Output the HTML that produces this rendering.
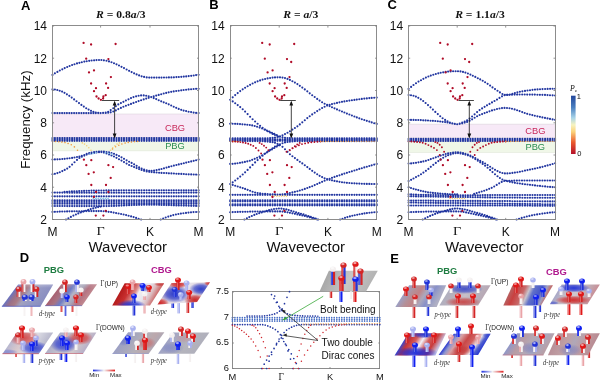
<!DOCTYPE html><html><head><meta charset="utf-8"><style>html,body{margin:0;padding:0;background:#fff;}svg{display:block;filter:blur(0.3px)}</style></head><body>
<svg width="602" height="380" viewBox="0 0 602 380">
<defs>
<linearGradient id="cbar" x1="0" y1="0" x2="0" y2="1"><stop offset="0" stop-color="#23479b"/><stop offset="0.2" stop-color="#4a7fc0"/><stop offset="0.38" stop-color="#a8d4e8"/><stop offset="0.5" stop-color="#f6f3c0"/><stop offset="0.62" stop-color="#fbd27a"/><stop offset="0.8" stop-color="#ea5a2e"/><stop offset="1" stop-color="#b5102a"/></linearGradient>
<linearGradient id="mm" x1="0" y1="0" x2="1" y2="0"><stop offset="0" stop-color="#1e2ee0"/><stop offset="0.5" stop-color="#f2f2f2"/><stop offset="1" stop-color="#e02020"/></linearGradient>
</defs>
<text x="21.0" y="9.7" font-family='"Liberation Sans", sans-serif' font-size="13.00" font-weight="bold" font-style="normal" fill="#000" text-anchor="start" >A</text>
<text x="209.3" y="9.4" font-family='"Liberation Sans", sans-serif' font-size="13.00" font-weight="bold" font-style="normal" fill="#000" text-anchor="start" >B</text>
<text x="387.4" y="9.4" font-family='"Liberation Sans", sans-serif' font-size="13.00" font-weight="bold" font-style="normal" fill="#000" text-anchor="start" >C</text>
<text x="19.8" y="261.9" font-family='"Liberation Sans", sans-serif' font-size="13.00" font-weight="bold" font-style="normal" fill="#000" text-anchor="start" >D</text>
<text x="390.2" y="262.6" font-family='"Liberation Sans", sans-serif' font-size="13.00" font-weight="bold" font-style="normal" fill="#000" text-anchor="start" >E</text>
<text x="96.0" y="18.1" font-family='"Liberation Serif", serif' font-size="10.60" font-weight="bold" font-style="normal" fill="#111" text-anchor="start" textLength="49.6" lengthAdjust="spacingAndGlyphs"><tspan font-style="italic">R</tspan> = 0.8<tspan font-style="italic">a</tspan>/3</text>
<text x="283.2" y="18.1" font-family='"Liberation Serif", serif' font-size="10.60" font-weight="bold" font-style="normal" fill="#111" text-anchor="start" textLength="35.2" lengthAdjust="spacingAndGlyphs"><tspan font-style="italic">R</tspan> = <tspan font-style="italic">a</tspan>/3</text>
<text x="455.2" y="18.3" font-family='"Liberation Serif", serif' font-size="10.60" font-weight="bold" font-style="normal" fill="#111" text-anchor="start" textLength="49.6" lengthAdjust="spacingAndGlyphs"><tspan font-style="italic">R</tspan> = 1.1<tspan font-style="italic">a</tspan>/3</text>
<text transform="translate(30.1,119.6) rotate(-90)" font-family='"Liberation Sans", sans-serif' font-size="13.6" fill="#111" text-anchor="middle" textLength="98.5" lengthAdjust="spacingAndGlyphs">Frequency (kHz)</text>
<rect x="52.5" y="114.0" width="146.1" height="23.6" fill="#f7e9f7" stroke="#d8d0d8" stroke-width="0.5"/>
<rect x="52.5" y="141.6" width="146.1" height="9.3" fill="#f0f7e8" stroke="#dfe6d8" stroke-width="0.5"/>
<rect x="408.6" y="124.1" width="146.5" height="13.7" fill="#f7e9f7" stroke="#d8d0d8" stroke-width="0.5"/>
<rect x="408.6" y="141.6" width="146.5" height="11.0" fill="#f0f7e8" stroke="#dfe6d8" stroke-width="0.5"/>
<path d="M52.5 74.9h0M54.9 73.3h0M57.4 71.9h0M59.8 70.5h0M62.3 69.3h0M64.7 68.1h0M67.2 67.0h0M69.6 66.0h0M72.1 65.0h0M74.5 64.2h0M77.0 63.4h0M79.4 62.8h0M81.8 62.2h0M84.3 61.6h0M86.7 61.2h0M89.2 60.8h0M91.6 60.5h0M94.1 60.3h0M96.5 60.1h0M99.0 60.0h0M101.4 60.0h0M103.9 60.3h0M106.5 60.7h0M109.0 61.4h0M111.5 62.2h0M114.0 63.2h0M116.5 64.3h0M119.0 65.5h0M121.5 66.8h0M124.0 68.1h0M126.6 69.5h0M129.1 70.8h0M131.6 72.1h0M134.1 73.3h0M136.6 74.4h0M139.1 75.4h0M141.6 76.3h0M144.1 76.9h0M146.7 77.4h0M149.2 77.6h0M151.6 77.6h0M154.1 77.6h0M156.6 77.6h0M159.1 77.6h0M161.5 77.6h0M164.0 77.5h0M166.5 77.5h0M168.9 77.4h0M171.4 77.4h0M173.9 77.3h0M176.4 77.1h0M178.8 77.0h0M181.3 76.8h0M183.8 76.6h0M186.2 76.4h0M188.7 76.1h0M191.2 75.8h0M193.7 75.5h0M196.1 75.1h0M198.6 74.7h0M52.5 89.4h0M54.9 89.5h0M57.3 90.0h0M59.7 90.7h0M62.1 91.6h0M64.5 92.8h0M66.9 94.3h0M69.3 95.8h0M71.7 97.6h0M74.1 99.4h0M76.5 101.2h0M79.0 103.1h0M81.4 104.9h0M83.8 106.6h0M86.2 108.2h0M88.6 109.6h0M91.0 110.8h0M93.4 111.8h0M95.8 112.5h0M98.2 112.9h0M100.6 113.1h0M100.6 113.1h0M103.1 112.9h0M105.7 112.6h0M108.2 111.7h0M110.7 110.1h0M113.3 108.2h0M115.8 106.2h0M118.3 104.4h0M120.9 103.1h0M123.4 101.8h0M125.9 100.5h0M128.5 99.3h0M131.0 98.1h0M133.5 97.1h0M136.1 96.3h0M138.6 95.7h0M141.1 95.4h0M143.7 95.4h0M146.2 95.7h0M148.7 96.3h0M151.2 97.1h0M153.7 98.1h0M156.2 99.1h0M158.7 100.2h0M161.2 101.3h0M163.7 102.3h0M166.2 103.2h0M168.7 104.3h0M171.2 105.5h0M173.7 106.7h0M176.2 107.8h0M178.7 108.9h0M181.2 109.8h0M183.6 110.6h0M186.1 111.1h0M188.6 111.7h0M191.1 112.1h0M193.6 112.6h0M196.1 112.9h0M198.6 113.1h0M100.6 113.1h0M103.1 113.0h0M105.7 112.9h0M108.2 112.7h0M110.7 112.3h0M113.3 111.5h0M115.8 110.4h0M118.3 109.1h0M120.9 107.9h0M123.4 106.7h0M125.9 105.7h0M128.5 104.8h0M131.0 103.9h0M133.5 102.9h0M136.1 102.0h0M138.6 101.1h0M141.1 100.2h0M143.7 99.4h0M146.2 98.6h0M148.7 97.8h0M151.2 97.1h0M153.7 96.3h0M156.2 95.6h0M158.7 94.9h0M161.2 94.2h0M163.7 93.5h0M166.2 92.9h0M168.7 92.3h0M171.2 91.8h0M173.7 91.4h0M176.2 91.0h0M178.7 90.7h0M181.2 90.3h0M183.6 90.0h0M186.1 89.7h0M188.6 89.4h0M191.1 89.2h0M193.6 89.0h0M196.1 88.8h0M198.6 88.7h0M52.5 113.1h0M54.9 113.1h0M57.3 113.1h0M59.7 113.1h0M62.1 113.1h0M64.5 113.1h0M66.9 113.1h0M69.3 113.1h0M71.7 113.1h0M74.1 113.1h0M76.5 113.1h0M79.0 113.1h0M81.4 113.1h0M83.8 113.1h0M86.2 113.1h0M88.6 113.1h0M91.0 113.1h0M93.4 113.1h0M95.8 113.1h0M98.2 113.1h0M100.6 113.1h0M52.5 138.1h0M54.9 138.1h0M57.4 138.1h0M59.8 138.1h0M62.3 138.1h0M64.7 138.1h0M67.2 138.1h0M69.6 138.1h0M72.1 138.1h0M74.5 138.1h0M77.0 138.1h0M79.4 138.1h0M81.8 138.1h0M84.3 138.1h0M86.7 138.1h0M89.2 138.1h0M91.6 138.1h0M94.1 138.1h0M96.5 138.1h0M99.0 138.1h0M101.4 138.1h0M103.9 138.1h0M106.5 138.1h0M109.0 138.1h0M111.5 138.1h0M114.0 138.1h0M116.5 138.1h0M119.0 138.1h0M121.5 138.1h0M124.0 138.1h0M126.6 138.1h0M129.1 138.1h0M131.6 138.1h0M134.1 138.1h0M136.6 138.1h0M139.1 138.1h0M141.6 138.1h0M144.1 138.1h0M146.7 138.1h0M149.2 138.1h0M151.6 138.1h0M154.1 138.1h0M156.6 138.1h0M159.1 138.1h0M161.5 138.1h0M164.0 138.1h0M166.5 138.1h0M168.9 138.1h0M171.4 138.1h0M173.9 138.1h0M176.4 138.1h0M178.8 138.1h0M181.3 138.1h0M183.8 138.1h0M186.2 138.1h0M188.7 138.1h0M191.2 138.1h0M193.7 138.1h0M196.1 138.1h0M198.6 138.1h0M52.5 139.0h0M54.9 139.0h0M57.4 139.0h0M59.8 139.0h0M62.3 139.0h0M64.7 139.0h0M67.2 139.0h0M69.6 139.0h0M72.1 139.0h0M74.5 139.0h0M77.0 139.0h0M79.4 139.0h0M81.8 139.0h0M84.3 139.0h0M86.7 139.0h0M89.2 139.0h0M91.6 139.0h0M94.1 139.0h0M96.5 139.0h0M99.0 139.0h0M101.4 139.0h0M103.9 139.0h0M106.5 139.0h0M109.0 139.0h0M111.5 139.0h0M114.0 139.0h0M116.5 139.0h0M119.0 139.0h0M121.5 139.0h0M124.0 139.0h0M126.6 139.0h0M129.1 139.0h0M131.6 139.0h0M134.1 139.0h0M136.6 139.0h0M139.1 139.0h0M141.6 139.0h0M144.1 139.0h0M146.7 139.0h0M149.2 139.0h0M151.6 139.0h0M154.1 139.0h0M156.6 139.0h0M159.1 139.0h0M161.5 139.0h0M164.0 139.0h0M166.5 139.0h0M168.9 139.0h0M171.4 139.0h0M173.9 139.0h0M176.4 139.0h0M178.8 139.0h0M181.3 139.0h0M183.8 139.0h0M186.2 139.0h0M188.7 139.0h0M191.2 139.0h0M193.7 139.0h0M196.1 139.0h0M198.6 139.0h0M52.5 140.0h0M54.9 140.0h0M57.4 140.0h0M59.8 140.0h0M62.3 140.0h0M64.7 140.0h0M67.2 140.0h0M69.6 140.0h0M72.1 140.0h0M74.5 140.0h0M77.0 140.0h0M79.4 140.0h0M81.8 140.0h0M84.3 140.0h0M86.7 140.0h0M89.2 140.0h0M91.6 140.0h0M94.1 140.0h0M96.5 140.0h0M99.0 140.0h0M101.4 140.0h0M103.9 140.0h0M106.5 140.0h0M109.0 140.0h0M111.5 140.0h0M114.0 140.0h0M116.5 140.0h0M119.0 140.0h0M121.5 140.0h0M124.0 140.0h0M126.6 140.0h0M129.1 140.0h0M131.6 140.0h0M134.1 140.0h0M136.6 140.0h0M139.1 140.0h0M141.6 140.0h0M144.1 140.0h0M146.7 140.0h0M149.2 140.0h0M151.6 140.0h0M154.1 140.0h0M156.6 140.0h0M159.1 140.0h0M161.5 140.0h0M164.0 140.0h0M166.5 140.0h0M168.9 140.0h0M171.4 140.0h0M173.9 140.0h0M176.4 140.0h0M178.8 140.0h0M181.3 140.0h0M183.8 140.0h0M186.2 140.0h0M188.7 140.0h0M191.2 140.0h0M193.7 140.0h0M196.1 140.0h0M198.6 140.0h0M52.5 140.8h0M54.9 140.8h0M57.4 140.8h0M59.8 140.8h0M62.3 140.8h0M64.7 140.8h0M67.2 140.8h0M69.6 140.8h0M72.1 140.8h0M74.5 140.8h0M77.0 140.8h0M79.4 140.8h0M81.8 140.8h0M84.3 140.8h0M86.7 140.8h0M89.2 140.8h0M91.6 140.8h0M94.1 140.8h0M96.5 140.8h0M99.0 140.8h0M101.4 140.8h0M103.9 140.8h0M106.5 140.8h0M109.0 140.8h0M111.5 140.8h0M114.0 140.8h0M116.5 140.8h0M119.0 140.8h0M121.5 140.8h0M124.0 140.8h0M126.6 140.8h0M129.1 140.8h0M131.6 140.8h0M134.1 140.8h0M136.6 140.8h0M139.1 140.8h0M141.6 140.8h0M144.1 140.8h0M146.7 140.8h0M149.2 140.8h0M151.6 140.8h0M154.1 140.8h0M156.6 140.8h0M159.1 140.8h0M161.5 140.8h0M164.0 140.8h0M166.5 140.8h0M168.9 140.8h0M171.4 140.8h0M173.9 140.8h0M176.4 140.8h0M178.8 140.8h0M181.3 140.8h0M183.8 140.8h0M186.2 140.8h0M188.7 140.8h0M191.2 140.8h0M193.7 140.8h0M196.1 140.8h0M198.6 140.8h0M52.5 159.5h0M54.9 159.4h0M57.4 159.3h0M59.8 159.2h0M62.3 159.0h0M64.7 158.8h0M67.2 158.5h0M69.6 158.2h0M72.1 157.9h0M74.5 157.5h0M77.0 157.0h0M79.4 156.5h0M81.8 155.9h0M84.3 155.0h0M86.7 153.9h0M89.2 153.0h0M91.6 152.5h0M94.1 152.1h0M96.5 151.7h0M99.0 151.5h0M101.4 151.5h0M103.9 151.6h0M106.5 152.0h0M109.0 152.4h0M111.5 153.0h0M114.0 153.8h0M116.5 154.9h0M119.0 156.0h0M121.5 157.3h0M124.0 158.8h0M126.6 160.3h0M129.1 161.7h0M131.6 162.9h0M134.1 164.3h0M136.6 165.8h0M139.1 167.2h0M141.6 168.5h0M144.1 169.6h0M146.7 170.4h0M149.2 170.8h0M151.6 170.8h0M154.1 170.5h0M156.6 170.1h0M159.1 169.6h0M161.5 169.0h0M164.0 168.3h0M166.5 167.6h0M168.9 166.9h0M171.4 166.2h0M173.9 165.6h0M176.4 165.0h0M178.8 164.4h0M181.3 163.8h0M183.8 163.2h0M186.2 162.6h0M188.7 162.0h0M191.2 161.4h0M193.7 160.8h0M196.1 160.2h0M198.6 159.5h0M52.5 174.3h0M54.9 173.8h0M57.4 173.1h0M59.8 172.2h0M62.3 171.1h0M64.7 169.9h0M67.2 168.6h0M69.6 166.8h0M72.1 164.6h0M74.5 162.2h0M77.0 159.9h0M79.4 158.0h0M81.8 156.7h0M84.3 155.6h0M86.7 154.6h0M89.2 153.8h0M91.6 153.3h0M94.1 152.8h0M96.5 152.4h0M99.0 152.2h0M101.4 152.1h0M103.9 152.6h0M106.5 153.4h0M109.0 154.4h0M111.5 155.4h0M114.0 156.5h0M116.5 157.8h0M119.0 159.2h0M121.5 160.6h0M124.0 162.1h0M126.6 163.6h0M129.1 165.0h0M131.6 166.0h0M134.1 167.1h0M136.6 168.1h0M139.1 169.1h0M141.6 170.0h0M144.1 170.8h0M146.7 171.4h0M149.2 171.8h0M151.6 172.1h0M154.1 172.3h0M156.6 172.5h0M159.1 172.7h0M161.5 172.9h0M164.0 173.0h0M166.5 173.1h0M168.9 173.3h0M171.4 173.4h0M173.9 173.5h0M176.4 173.7h0M178.8 173.8h0M181.3 173.9h0M183.8 174.0h0M186.2 174.2h0M188.7 174.3h0M191.2 174.4h0M193.7 174.5h0M196.1 174.6h0M198.6 174.7h0M64.5 191.8h0M67.0 191.7h0M69.4 191.5h0M71.9 191.4h0M74.3 191.3h0M76.8 191.2h0M79.2 191.1h0M81.7 191.0h0M84.1 190.9h0M86.6 190.8h0M89.0 190.7h0M91.5 190.6h0M93.9 190.6h0M96.4 190.5h0M98.8 190.5h0M101.3 190.5h0M103.8 190.5h0M106.3 190.4h0M108.8 190.4h0M111.3 190.4h0M113.9 190.4h0M116.4 190.4h0M118.9 190.4h0M121.4 190.3h0M123.9 190.3h0M126.4 190.3h0M129.0 190.3h0M131.5 190.3h0M134.0 190.3h0M136.5 190.3h0M139.0 190.3h0M141.5 190.3h0M144.1 190.2h0M146.6 190.2h0M149.1 190.2h0M151.6 190.2h0M154.0 190.2h0M156.5 190.2h0M159.0 190.2h0M161.5 190.2h0M163.9 190.2h0M166.4 190.2h0M168.9 190.2h0M171.4 190.2h0M173.8 190.2h0M176.3 190.2h0M178.8 190.2h0M181.3 190.2h0M183.8 190.2h0M186.2 190.2h0M188.7 190.2h0M191.2 190.2h0M193.6 190.2h0M196.1 190.2h0M198.6 190.2h0M52.5 192.6h0M54.9 192.6h0M57.4 192.6h0M59.8 192.6h0M62.3 192.6h0M64.7 192.6h0M67.2 192.6h0M69.6 192.7h0M72.1 192.7h0M74.5 192.7h0M77.0 192.7h0M79.4 192.7h0M81.8 192.7h0M84.3 192.7h0M86.7 192.7h0M89.2 192.7h0M91.6 192.7h0M94.1 192.7h0M96.5 192.7h0M99.0 192.7h0M101.4 192.7h0M103.9 192.7h0M106.5 192.7h0M109.0 192.7h0M111.5 192.7h0M114.0 192.7h0M116.5 192.7h0M119.0 192.7h0M121.5 192.7h0M124.0 192.7h0M126.6 192.7h0M129.1 192.7h0M131.6 192.7h0M134.1 192.7h0M136.6 192.7h0M139.1 192.7h0M141.6 192.7h0M144.1 192.7h0M146.7 192.7h0M149.2 192.7h0M151.6 192.7h0M154.1 192.7h0M156.6 192.7h0M159.1 192.7h0M161.5 192.7h0M164.0 192.7h0M166.5 192.7h0M168.9 192.7h0M171.4 192.7h0M173.9 192.7h0M176.4 192.7h0M178.8 192.7h0M181.3 192.6h0M183.8 192.6h0M186.2 192.6h0M188.7 192.6h0M191.2 192.6h0M193.7 192.6h0M196.1 192.6h0M198.6 192.6h0M52.5 196.3h0M54.9 196.3h0M57.4 196.3h0M59.8 196.3h0M62.3 196.3h0M64.7 196.3h0M67.2 196.3h0M69.6 196.3h0M72.1 196.3h0M74.5 196.3h0M77.0 196.3h0M79.4 196.3h0M81.8 196.3h0M84.3 196.3h0M86.7 196.3h0M89.2 196.3h0M91.6 196.3h0M94.1 196.3h0M96.5 196.3h0M99.0 196.3h0M101.4 196.3h0M103.9 196.3h0M106.5 196.3h0M109.0 196.3h0M111.5 196.3h0M114.0 196.3h0M116.5 196.3h0M119.0 196.3h0M121.5 196.3h0M124.0 196.3h0M126.6 196.3h0M129.1 196.3h0M131.6 196.3h0M134.1 196.3h0M136.6 196.3h0M139.1 196.3h0M141.6 196.3h0M144.1 196.3h0M146.7 196.3h0M149.2 196.3h0M151.6 196.3h0M154.1 196.3h0M156.6 196.3h0M159.1 196.3h0M161.5 196.3h0M164.0 196.3h0M166.5 196.3h0M168.9 196.3h0M171.4 196.3h0M173.9 196.3h0M176.4 196.3h0M178.8 196.3h0M181.3 196.3h0M183.8 196.3h0M186.2 196.3h0M188.7 196.3h0M191.2 196.3h0M193.7 196.3h0M196.1 196.3h0M198.6 196.3h0M52.5 200.3h0M54.9 200.3h0M57.4 200.3h0M59.8 200.3h0M62.3 200.3h0M64.7 200.3h0M67.2 200.3h0M69.6 200.3h0M72.1 200.3h0M74.5 200.3h0M77.0 200.3h0M79.4 200.3h0M81.8 200.3h0M84.3 200.3h0M86.7 200.3h0M89.2 200.3h0M91.6 200.3h0M94.1 200.3h0M96.5 200.3h0M99.0 200.3h0M101.4 200.3h0M103.9 200.3h0M106.5 200.3h0M109.0 200.3h0M111.5 200.3h0M114.0 200.3h0M116.5 200.3h0M119.0 200.3h0M121.5 200.3h0M124.0 200.3h0M126.6 200.3h0M129.1 200.3h0M131.6 200.3h0M134.1 200.3h0M136.6 200.3h0M139.1 200.3h0M141.6 200.3h0M144.1 200.3h0M146.7 200.3h0M149.2 200.3h0M151.6 200.3h0M154.1 200.3h0M156.6 200.3h0M159.1 200.3h0M161.5 200.3h0M164.0 200.3h0M166.5 200.3h0M168.9 200.3h0M171.4 200.3h0M173.9 200.3h0M176.4 200.3h0M178.8 200.3h0M181.3 200.3h0M183.8 200.3h0M186.2 200.3h0M188.7 200.3h0M191.2 200.3h0M193.7 200.3h0M196.1 200.3h0M198.6 200.3h0M52.5 202.0h0M54.9 202.0h0M57.4 202.0h0M59.8 202.0h0M62.3 202.0h0M64.7 202.0h0M67.2 202.0h0M69.6 202.0h0M72.1 202.0h0M74.5 202.0h0M77.0 202.0h0M79.4 202.0h0M81.8 202.0h0M84.3 202.0h0M86.7 202.0h0M89.2 202.0h0M91.6 202.0h0M94.1 202.0h0M96.5 202.0h0M99.0 202.0h0M101.4 202.0h0M103.9 202.0h0M106.5 202.0h0M109.0 202.0h0M111.5 202.0h0M114.0 202.0h0M116.5 202.0h0M119.0 202.0h0M121.5 202.0h0M124.0 202.0h0M126.6 202.0h0M129.1 202.0h0M131.6 202.0h0M134.1 202.0h0M136.6 202.0h0M139.1 202.0h0M141.6 202.0h0M144.1 202.0h0M146.7 202.0h0M149.2 202.0h0M151.6 202.0h0M154.1 202.0h0M156.6 202.0h0M159.1 202.0h0M161.5 202.0h0M164.0 202.0h0M166.5 202.0h0M168.9 202.0h0M171.4 202.0h0M173.9 202.0h0M176.4 202.0h0M178.8 202.0h0M181.3 202.0h0M183.8 202.0h0M186.2 202.0h0M188.7 202.0h0M191.2 202.0h0M193.7 202.0h0M196.1 202.0h0M198.6 202.0h0M52.5 203.7h0M54.9 203.7h0M57.4 203.7h0M59.8 203.7h0M62.3 203.7h0M64.7 203.7h0M67.2 203.7h0M69.6 203.7h0M72.1 203.7h0M74.5 203.7h0M77.0 203.7h0M79.4 203.7h0M81.8 203.7h0M84.3 203.7h0M86.7 203.7h0M89.2 203.7h0M91.6 203.7h0M94.1 203.7h0M96.5 203.7h0M99.0 203.7h0M101.4 203.7h0M103.9 203.7h0M106.5 203.7h0M109.0 203.7h0M111.5 203.7h0M114.0 203.7h0M116.5 203.7h0M119.0 203.7h0M121.5 203.7h0M124.0 203.7h0M126.6 203.7h0M129.1 203.7h0M131.6 203.7h0M134.1 203.7h0M136.6 203.7h0M139.1 203.7h0M141.6 203.7h0M144.1 203.7h0M146.7 203.7h0M149.2 203.7h0M151.6 203.7h0M154.1 203.7h0M156.6 203.7h0M159.1 203.7h0M161.5 203.7h0M164.0 203.7h0M166.5 203.7h0M168.9 203.7h0M171.4 203.7h0M173.9 203.7h0M176.4 203.7h0M178.8 203.7h0M181.3 203.7h0M183.8 203.7h0M186.2 203.7h0M188.7 203.7h0M191.2 203.7h0M193.7 203.7h0M196.1 203.7h0M198.6 203.7h0M52.5 206.0h0M54.9 206.0h0M57.4 206.0h0M59.8 206.0h0M62.3 206.0h0M64.7 206.0h0M67.2 206.1h0M69.6 206.1h0M72.1 206.1h0M74.5 206.1h0M77.0 206.1h0M79.4 206.1h0M81.8 206.1h0M84.3 206.1h0M86.7 206.1h0M89.2 206.1h0M91.6 206.1h0M94.1 206.1h0M96.5 206.1h0M99.0 206.1h0M101.4 206.1h0M103.9 206.1h0M106.5 206.1h0M109.0 206.0h0M111.5 205.9h0M114.0 205.9h0M116.5 205.8h0M119.0 205.7h0M121.5 205.6h0M124.0 205.4h0M126.6 205.3h0M129.1 205.2h0M131.6 205.1h0M134.1 205.0h0M136.6 204.9h0M139.1 204.8h0M141.6 204.8h0M144.1 204.7h0M146.7 204.7h0M149.2 204.7h0M151.6 204.7h0M154.1 204.7h0M156.6 204.7h0M159.1 204.8h0M161.5 204.9h0M164.0 205.0h0M166.5 205.1h0M168.9 205.1h0M171.4 205.2h0M173.9 205.3h0M176.4 205.4h0M178.8 205.4h0M181.3 205.5h0M183.8 205.6h0M186.2 205.6h0M188.7 205.7h0M191.2 205.8h0M193.7 205.8h0M196.1 205.9h0M198.6 206.0h0M52.5 211.9h0M54.9 211.8h0M57.4 211.7h0M59.8 211.6h0M62.2 211.5h0M64.7 211.5h0M67.1 211.4h0M69.5 211.3h0M72.0 211.3h0M74.4 211.2h0M76.8 211.2h0M79.2 211.2h0M81.7 211.2h0M84.1 211.1h0M86.5 211.1h0M89.0 211.1h0M91.4 211.1h0M93.8 211.1h0M96.3 211.1h0M98.7 211.1h0M101.1 211.1h0M103.6 211.2h0M106.1 211.4h0M108.6 211.8h0M111.1 212.1h0M113.6 212.6h0M116.1 213.1h0M118.6 213.5h0M121.1 214.0h0M123.6 214.5h0M126.1 215.1h0M128.6 215.7h0M131.1 216.4h0M133.6 217.1h0M136.1 217.9h0M138.6 218.7h0M141.1 219.5h0M66.0 219.5h0M68.4 218.2h0M70.9 216.9h0M73.4 215.6h0M75.9 214.5h0M78.3 213.4h0M80.8 212.4h0M83.3 211.6h0M85.8 210.7h0M88.2 209.9h0M90.7 209.1h0M93.2 208.4h0M95.7 207.7h0M98.1 207.1h0M100.6 206.6h0M160.7 219.5h0M163.2 218.5h0M165.7 217.5h0M168.3 216.6h0M170.8 215.8h0M173.3 215.1h0M175.9 214.5h0M178.4 214.0h0M180.9 213.6h0M183.4 213.2h0M186.0 212.9h0M188.5 212.6h0M191.0 212.3h0M193.5 212.1h0M196.1 212.0h0M198.6 211.9h0" stroke="#2236a0" stroke-width="2.15" stroke-linecap="round" fill="none" opacity="1"/>
<path d="M52.5 141.5h0M55.6 141.5h0M58.8 141.8h0M61.9 142.1h0M65.0 142.6h0M68.1 143.5h0M71.3 144.8h0M74.4 146.9h0M77.5 150.2h0M112.5 148.9h0M115.6 146.8h0M118.8 145.2h0M121.9 144.0h0M125.1 143.1h0M128.2 142.4h0M131.4 142.0h0M134.5 141.6h0M137.7 141.5h0" stroke="#f09a3c" stroke-width="1.60" stroke-linecap="round" fill="none" opacity="1"/>
<path d="M82.3 142.9h0M84.5 144.1h0M86.7 145.7h0M88.8 147.7h0M91.0 150.2h0M110.5 150.2h0M112.7 147.7h0M114.9 145.7h0M117.1 144.1h0M119.4 142.9h0" stroke="#f3d27a" stroke-width="1.60" stroke-linecap="round" fill="none" opacity="1"/>
<path d="M90.0 154.2h0M92.9 153.4h0M95.8 152.6h0M105.5 152.6h0M108.5 153.4h0M111.5 154.2h0M93.4 198.5h0M95.8 198.5h0M98.2 198.5h0M100.6 198.5h0M103.1 198.5h0M105.5 198.5h0M108.0 198.5h0" stroke="#8fc8ea" stroke-width="1.80" stroke-linecap="round" fill="none" opacity="1"/>
<path d="M230.2 99.7h0M232.7 97.3h0M235.2 95.1h0M237.7 93.1h0M240.2 91.1h0M242.7 89.3h0M245.1 87.7h0M247.6 86.2h0M250.1 84.8h0M252.6 83.5h0M255.1 82.3h0M257.6 81.3h0M260.1 80.4h0M262.6 79.6h0M265.1 79.0h0M267.6 78.4h0M270.1 78.0h0M272.6 77.6h0M275.0 77.4h0M277.5 77.3h0M280.0 77.3h0M282.5 77.6h0M285.0 78.1h0M287.5 78.9h0M289.9 79.9h0M292.4 81.2h0M294.9 82.6h0M297.4 84.1h0M299.8 85.8h0M302.3 87.6h0M304.8 89.4h0M307.3 91.3h0M309.7 93.3h0M312.2 95.2h0M314.7 97.0h0M317.2 98.9h0M319.6 100.6h0M322.1 102.2h0M324.6 103.7h0M327.1 104.9h0M329.6 106.1h0M332.0 107.2h0M334.5 108.3h0M337.0 109.4h0M339.5 110.5h0M342.0 111.5h0M344.4 112.5h0M346.9 113.6h0M349.4 114.5h0M351.9 115.5h0M354.4 116.5h0M356.8 117.4h0M359.3 118.3h0M361.8 119.2h0M364.3 120.0h0M366.8 120.8h0M369.3 121.6h0M371.7 122.4h0M374.2 123.2h0M376.7 123.9h0M230.2 99.7h0M232.7 101.4h0M235.2 103.2h0M237.7 105.1h0M240.2 107.1h0M242.7 109.2h0M245.1 111.6h0M247.6 114.1h0M250.1 116.7h0M252.6 119.2h0M255.1 121.5h0M257.6 123.7h0M260.1 125.8h0M262.6 127.8h0M265.1 129.6h0M267.6 131.2h0M270.1 132.6h0M272.6 133.9h0M275.0 135.0h0M277.5 136.0h0M280.0 136.7h0M282.5 137.3h0M285.0 137.7h0M287.5 138.0h0M289.9 138.1h0M292.4 138.2h0M294.9 138.3h0M297.4 138.4h0M299.8 138.4h0M302.3 138.4h0M304.8 138.4h0M307.3 138.4h0M309.7 138.4h0M312.2 138.4h0M314.7 138.4h0M317.2 138.4h0M319.6 138.4h0M322.1 138.4h0M324.6 138.4h0M327.1 138.4h0M329.6 138.4h0M332.0 138.4h0M334.5 138.4h0M337.0 138.4h0M339.5 138.4h0M342.0 138.4h0M344.4 138.4h0M346.9 138.4h0M349.4 138.4h0M351.9 138.4h0M354.4 138.4h0M356.8 138.4h0M359.3 138.4h0M361.8 138.4h0M364.3 138.4h0M366.8 138.4h0M369.3 138.4h0M371.7 138.4h0M374.2 138.4h0M376.7 138.4h0M230.2 138.4h0M232.7 138.4h0M235.2 138.4h0M237.7 138.4h0M240.2 138.4h0M242.7 138.4h0M245.1 138.4h0M247.6 138.4h0M250.1 138.4h0M252.6 138.4h0M255.1 138.4h0M257.6 138.4h0M260.1 138.4h0M262.6 138.4h0M265.1 138.3h0M267.6 138.2h0M270.1 138.0h0M272.6 137.8h0M275.0 137.5h0M277.5 136.9h0M280.0 136.2h0M282.5 135.3h0M285.0 134.1h0M287.5 132.7h0M289.9 131.2h0M292.4 129.6h0M294.9 128.0h0M297.4 126.3h0M299.8 124.4h0M302.3 122.3h0M304.8 120.2h0M307.3 118.1h0M309.7 116.2h0M312.2 114.4h0M314.7 112.7h0M317.2 111.1h0M319.6 109.5h0M322.1 108.0h0M324.6 106.7h0M327.1 105.6h0M329.6 104.8h0M332.0 104.1h0M334.5 103.5h0M337.0 102.9h0M339.5 102.3h0M342.0 101.8h0M344.4 101.4h0M346.9 101.0h0M349.4 100.6h0M351.9 100.2h0M354.4 99.9h0M356.8 99.6h0M359.3 99.2h0M361.8 98.9h0M364.3 98.6h0M366.8 98.4h0M369.3 98.1h0M371.7 97.9h0M374.2 97.7h0M376.7 97.6h0M230.2 123.7h0M232.6 123.7h0M235.1 123.8h0M237.5 123.9h0M240.0 124.1h0M242.4 124.3h0M244.9 124.5h0M247.3 124.7h0M249.8 125.0h0M252.2 125.4h0M254.7 126.0h0M257.1 126.7h0M259.6 127.6h0M262.1 128.5h0M264.5 129.6h0M266.9 130.6h0M269.4 131.6h0M271.9 132.7h0M274.3 133.9h0M276.8 135.1h0M279.2 136.5h0M230.2 139.2h0M232.7 139.2h0M235.2 139.2h0M237.7 139.2h0M240.2 139.2h0M242.7 139.2h0M245.1 139.2h0M247.6 139.2h0M250.1 139.2h0M252.6 139.2h0M255.1 139.2h0M257.6 139.2h0M260.1 139.2h0M262.6 139.2h0M265.1 139.2h0M267.6 139.2h0M270.1 139.2h0M272.6 139.2h0M275.0 139.2h0M277.5 139.2h0M280.0 139.2h0M282.5 139.2h0M285.0 139.2h0M287.5 139.2h0M289.9 139.2h0M292.4 139.2h0M294.9 139.2h0M297.4 139.2h0M299.8 139.2h0M302.3 139.2h0M304.8 139.2h0M307.3 139.2h0M309.7 139.2h0M312.2 139.2h0M314.7 139.2h0M317.2 139.2h0M319.6 139.2h0M322.1 139.2h0M324.6 139.2h0M327.1 139.2h0M329.6 139.2h0M332.0 139.2h0M334.5 139.2h0M337.0 139.2h0M339.5 139.2h0M342.0 139.2h0M344.4 139.2h0M346.9 139.2h0M349.4 139.2h0M351.9 139.2h0M354.4 139.2h0M356.8 139.2h0M359.3 139.2h0M361.8 139.2h0M364.3 139.2h0M366.8 139.2h0M369.3 139.2h0M371.7 139.2h0M374.2 139.2h0M376.7 139.2h0M230.2 140.0h0M232.7 140.0h0M235.2 140.0h0M237.7 140.0h0M240.2 140.0h0M242.7 140.0h0M245.1 140.0h0M247.6 140.0h0M250.1 140.0h0M252.6 140.0h0M255.1 140.0h0M257.6 140.0h0M260.1 140.0h0M262.6 140.0h0M265.1 140.0h0M267.6 140.0h0M270.1 140.0h0M272.6 140.0h0M275.0 140.0h0M277.5 140.0h0M280.0 140.0h0M282.5 140.0h0M285.0 140.0h0M287.5 140.0h0M289.9 140.0h0M292.4 140.0h0M294.9 140.0h0M297.4 140.0h0M299.8 140.0h0M302.3 140.0h0M304.8 140.0h0M307.3 140.0h0M309.7 140.0h0M312.2 140.0h0M314.7 140.0h0M317.2 140.0h0M319.6 140.0h0M322.1 140.0h0M324.6 140.0h0M327.1 140.0h0M329.6 140.0h0M332.0 140.0h0M334.5 140.0h0M337.0 140.0h0M339.5 140.0h0M342.0 140.0h0M344.4 140.0h0M346.9 140.0h0M349.4 140.0h0M351.9 140.0h0M354.4 140.0h0M356.8 140.0h0M359.3 140.0h0M361.8 140.0h0M364.3 140.0h0M366.8 140.0h0M369.3 140.0h0M371.7 140.0h0M374.2 140.0h0M376.7 140.0h0M230.2 140.8h0M232.7 140.8h0M235.2 140.8h0M237.7 140.8h0M240.2 140.8h0M242.7 140.8h0M245.1 140.8h0M247.6 140.8h0M250.1 140.8h0M252.6 140.8h0M255.1 140.8h0M257.6 140.8h0M260.1 140.8h0M262.6 140.8h0M265.1 140.8h0M267.6 140.8h0M270.1 140.8h0M272.6 140.8h0M275.0 140.8h0M277.5 140.8h0M280.0 140.8h0M282.5 140.8h0M285.0 140.8h0M287.5 140.8h0M289.9 140.8h0M292.4 140.8h0M294.9 140.8h0M297.4 140.8h0M299.8 140.8h0M302.3 140.8h0M304.8 140.8h0M307.3 140.8h0M309.7 140.8h0M312.2 140.8h0M314.7 140.8h0M317.2 140.8h0M319.6 140.8h0M322.1 140.8h0M324.6 140.8h0M327.1 140.8h0M329.6 140.8h0M332.0 140.8h0M334.5 140.8h0M337.0 140.8h0M339.5 140.8h0M342.0 140.8h0M344.4 140.8h0M346.9 140.8h0M349.4 140.8h0M351.9 140.8h0M354.4 140.8h0M356.8 140.8h0M359.3 140.8h0M361.8 140.8h0M364.3 140.8h0M366.8 140.8h0M369.3 140.8h0M371.7 140.8h0M374.2 140.8h0M376.7 140.8h0M230.2 141.1h0M232.7 141.1h0M235.2 141.1h0M237.7 141.1h0M240.2 141.1h0M242.7 141.1h0M245.1 141.1h0M247.6 141.1h0M250.1 141.1h0M252.6 141.1h0M255.1 141.1h0M257.6 141.1h0M260.1 141.1h0M262.6 141.2h0M265.1 141.4h0M267.6 141.6h0M270.1 141.9h0M272.6 142.2h0M275.0 142.8h0M277.5 143.8h0M280.0 145.0h0M282.5 146.8h0M285.0 149.2h0M287.5 151.8h0M289.9 154.2h0M292.4 156.2h0M294.9 158.1h0M297.4 159.9h0M299.8 161.7h0M302.3 163.4h0M304.8 165.2h0M307.3 167.1h0M309.7 168.9h0M312.2 170.8h0M314.7 172.6h0M317.2 174.2h0M319.6 175.8h0M322.1 177.1h0M324.6 178.3h0M327.1 179.1h0M329.6 179.8h0M332.0 180.3h0M334.5 180.9h0M337.0 181.3h0M339.5 181.8h0M342.0 182.2h0M344.4 182.5h0M346.9 182.8h0M349.4 183.0h0M351.9 183.2h0M354.4 183.3h0M356.8 183.5h0M359.3 183.6h0M361.8 183.7h0M364.3 183.8h0M366.8 183.9h0M369.3 183.9h0M371.7 184.0h0M374.2 184.0h0M376.7 184.0h0M230.2 184.0h0M232.7 182.3h0M235.2 180.5h0M237.7 178.6h0M240.2 176.6h0M242.7 174.5h0M245.1 172.3h0M247.6 169.9h0M250.1 167.4h0M252.6 164.9h0M255.1 162.4h0M257.6 160.1h0M260.1 157.9h0M262.6 155.7h0M265.1 153.6h0M267.6 151.7h0M270.1 149.9h0M272.6 148.2h0M275.0 146.6h0M277.5 145.3h0M280.0 144.2h0M282.5 143.2h0M285.0 142.4h0M287.5 142.0h0M289.9 141.7h0M292.4 141.4h0M294.9 141.2h0M297.4 141.1h0M299.8 141.1h0M302.3 141.1h0M304.8 141.1h0M307.3 141.1h0M309.7 141.1h0M312.2 141.1h0M314.7 141.1h0M317.2 141.1h0M319.6 141.1h0M322.1 141.1h0M324.6 141.1h0M327.1 141.1h0M329.6 141.1h0M332.0 141.1h0M334.5 141.1h0M337.0 141.1h0M339.5 141.1h0M342.0 141.1h0M344.4 141.1h0M346.9 141.1h0M349.4 141.1h0M351.9 141.1h0M354.4 141.1h0M356.8 141.1h0M359.3 141.1h0M361.8 141.1h0M364.3 141.1h0M366.8 141.1h0M369.3 141.1h0M371.7 141.1h0M374.2 141.1h0M376.7 141.1h0M230.2 163.9h0M232.6 163.8h0M235.1 163.6h0M237.5 163.2h0M240.0 162.8h0M242.4 162.4h0M244.9 161.9h0M247.3 161.3h0M249.8 160.7h0M252.2 159.8h0M254.7 158.8h0M257.1 157.7h0M259.6 156.6h0M262.1 155.4h0M264.5 153.9h0M266.9 152.4h0M269.4 150.8h0M271.9 149.4h0M274.3 148.0h0M276.8 146.6h0M279.2 145.3h0M230.2 184.0h0M232.7 184.9h0M235.2 185.7h0M237.7 186.5h0M240.2 187.3h0M242.7 188.1h0M245.1 188.9h0M247.6 189.8h0M250.1 190.7h0M252.6 191.7h0M255.1 192.5h0M257.6 193.1h0M260.1 193.4h0M262.6 193.7h0M265.1 193.9h0M267.6 194.1h0M270.1 194.2h0M272.6 194.4h0M275.0 194.4h0M277.5 194.5h0M280.0 194.5h0M282.5 194.3h0M285.0 194.0h0M287.5 193.5h0M289.9 193.0h0M292.4 192.4h0M294.9 191.8h0M297.4 191.2h0M299.8 190.5h0M302.3 189.7h0M304.8 188.9h0M307.3 188.0h0M309.7 187.1h0M312.2 186.2h0M314.7 185.1h0M317.2 184.0h0M319.6 182.9h0M322.1 181.8h0M324.6 180.7h0M327.1 179.7h0M329.6 178.7h0M332.0 177.8h0M334.5 176.9h0M337.0 176.1h0M339.5 175.3h0M342.0 174.4h0M344.4 173.6h0M346.9 172.8h0M349.4 172.0h0M351.9 171.3h0M354.4 170.5h0M356.8 169.7h0M359.3 168.9h0M361.8 168.2h0M364.3 167.4h0M366.8 166.7h0M369.3 166.0h0M371.7 165.3h0M374.2 164.6h0M376.7 163.9h0M230.2 194.8h0M232.7 194.8h0M235.2 194.8h0M237.7 194.8h0M240.2 194.8h0M242.7 194.8h0M245.1 194.8h0M247.6 194.8h0M250.1 194.8h0M252.6 194.8h0M255.1 194.8h0M257.6 194.8h0M260.1 194.8h0M262.6 194.8h0M265.1 194.8h0M267.6 194.8h0M270.1 194.8h0M272.6 194.8h0M275.0 194.8h0M277.5 194.8h0M280.0 194.8h0M282.5 194.8h0M285.0 194.8h0M287.5 194.8h0M289.9 194.8h0M292.4 194.8h0M294.9 194.8h0M297.4 194.8h0M299.8 194.8h0M302.3 194.8h0M304.8 194.8h0M307.3 194.8h0M309.7 194.8h0M312.2 194.8h0M314.7 194.8h0M317.2 194.8h0M319.6 194.8h0M322.1 194.8h0M324.6 194.8h0M327.1 194.8h0M329.6 194.8h0M332.0 194.8h0M334.5 194.8h0M337.0 194.8h0M339.5 194.8h0M342.0 194.8h0M344.4 194.8h0M346.9 194.8h0M349.4 194.8h0M351.9 194.8h0M354.4 194.8h0M356.8 194.8h0M359.3 194.8h0M361.8 194.8h0M364.3 194.8h0M366.8 194.8h0M369.3 194.8h0M371.7 194.8h0M374.2 194.8h0M376.7 194.8h0M230.2 200.2h0M232.7 200.2h0M235.2 200.2h0M237.7 200.2h0M240.2 200.2h0M242.7 200.2h0M245.1 200.2h0M247.6 200.2h0M250.1 200.2h0M252.6 200.2h0M255.1 200.2h0M257.6 200.2h0M260.1 200.2h0M262.6 200.2h0M265.1 200.2h0M267.6 200.2h0M270.1 200.2h0M272.6 200.2h0M275.0 200.2h0M277.5 200.2h0M280.0 200.2h0M282.5 200.2h0M285.0 200.2h0M287.5 200.2h0M289.9 200.2h0M292.4 200.2h0M294.9 200.2h0M297.4 200.2h0M299.8 200.2h0M302.3 200.2h0M304.8 200.2h0M307.3 200.2h0M309.7 200.2h0M312.2 200.2h0M314.7 200.2h0M317.2 200.2h0M319.6 200.2h0M322.1 200.2h0M324.6 200.2h0M327.1 200.2h0M329.6 200.2h0M332.0 200.2h0M334.5 200.2h0M337.0 200.2h0M339.5 200.2h0M342.0 200.2h0M344.4 200.2h0M346.9 200.2h0M349.4 200.2h0M351.9 200.2h0M354.4 200.2h0M356.8 200.2h0M359.3 200.2h0M361.8 200.2h0M364.3 200.2h0M366.8 200.2h0M369.3 200.2h0M371.7 200.2h0M374.2 200.2h0M376.7 200.2h0M230.2 201.3h0M232.7 201.3h0M235.2 201.3h0M237.7 201.3h0M240.2 201.3h0M242.7 201.3h0M245.1 201.3h0M247.6 201.3h0M250.1 201.3h0M252.6 201.3h0M255.1 201.3h0M257.6 201.3h0M260.1 201.3h0M262.6 201.3h0M265.1 201.3h0M267.6 201.3h0M270.1 201.3h0M272.6 201.3h0M275.0 201.3h0M277.5 201.3h0M280.0 201.3h0M282.5 201.3h0M285.0 201.3h0M287.5 201.3h0M289.9 201.3h0M292.4 201.3h0M294.9 201.3h0M297.4 201.3h0M299.8 201.3h0M302.3 201.3h0M304.8 201.3h0M307.3 201.3h0M309.7 201.3h0M312.2 201.3h0M314.7 201.3h0M317.2 201.3h0M319.6 201.3h0M322.1 201.3h0M324.6 201.3h0M327.1 201.3h0M329.6 201.3h0M332.0 201.3h0M334.5 201.3h0M337.0 201.3h0M339.5 201.3h0M342.0 201.3h0M344.4 201.3h0M346.9 201.3h0M349.4 201.3h0M351.9 201.3h0M354.4 201.3h0M356.8 201.3h0M359.3 201.3h0M361.8 201.3h0M364.3 201.3h0M366.8 201.3h0M369.3 201.3h0M371.7 201.3h0M374.2 201.3h0M376.7 201.3h0M230.2 204.3h0M232.7 204.3h0M235.2 204.3h0M237.7 204.3h0M240.2 204.3h0M242.7 204.3h0M245.1 204.3h0M247.6 204.3h0M250.1 204.3h0M252.6 204.3h0M255.1 204.3h0M257.6 204.3h0M260.1 204.3h0M262.6 204.3h0M265.1 204.3h0M267.6 204.3h0M270.1 204.3h0M272.6 204.3h0M275.0 204.3h0M277.5 204.3h0M280.0 204.3h0M282.5 204.3h0M285.0 204.3h0M287.5 204.3h0M289.9 204.3h0M292.4 204.3h0M294.9 204.3h0M297.4 204.3h0M299.8 204.3h0M302.3 204.3h0M304.8 204.3h0M307.3 204.3h0M309.7 204.3h0M312.2 204.3h0M314.7 204.3h0M317.2 204.3h0M319.6 204.3h0M322.1 204.3h0M324.6 204.3h0M327.1 204.3h0M329.6 204.3h0M332.0 204.3h0M334.5 204.3h0M337.0 204.3h0M339.5 204.3h0M342.0 204.3h0M344.4 204.3h0M346.9 204.3h0M349.4 204.3h0M351.9 204.3h0M354.4 204.3h0M356.8 204.3h0M359.3 204.3h0M361.8 204.3h0M364.3 204.3h0M366.8 204.3h0M369.3 204.3h0M371.7 204.3h0M374.2 204.3h0M376.7 204.3h0M230.2 205.3h0M232.7 205.3h0M235.2 205.3h0M237.7 205.3h0M240.2 205.3h0M242.7 205.3h0M245.1 205.3h0M247.6 205.3h0M250.1 205.3h0M252.6 205.3h0M255.1 205.3h0M257.6 205.3h0M260.1 205.3h0M262.6 205.3h0M265.1 205.3h0M267.6 205.3h0M270.1 205.3h0M272.6 205.3h0M275.0 205.3h0M277.5 205.3h0M280.0 205.3h0M282.5 205.3h0M285.0 205.3h0M287.5 205.3h0M289.9 205.3h0M292.4 205.3h0M294.9 205.3h0M297.4 205.3h0M299.8 205.3h0M302.3 205.3h0M304.8 205.3h0M307.3 205.3h0M309.7 205.3h0M312.2 205.3h0M314.7 205.3h0M317.2 205.3h0M319.6 205.3h0M322.1 205.3h0M324.6 205.3h0M327.1 205.3h0M329.6 205.3h0M332.0 205.3h0M334.5 205.3h0M337.0 205.3h0M339.5 205.3h0M342.0 205.3h0M344.4 205.3h0M346.9 205.3h0M349.4 205.3h0M351.9 205.3h0M354.4 205.3h0M356.8 205.3h0M359.3 205.3h0M361.8 205.3h0M364.3 205.3h0M366.8 205.3h0M369.3 205.3h0M371.7 205.3h0M374.2 205.3h0M376.7 205.3h0M230.2 212.2h0M232.7 212.1h0M235.2 212.0h0M237.7 211.9h0M240.2 211.8h0M242.7 211.8h0M245.2 211.7h0M247.6 211.7h0M250.1 211.6h0M252.6 211.6h0M255.1 211.5h0M257.6 211.5h0M260.1 211.5h0M262.6 211.5h0M265.1 211.5h0M267.6 211.4h0M270.1 211.4h0M272.6 211.4h0M275.1 211.4h0M277.5 211.4h0M280.0 211.4h0M282.5 211.6h0M285.0 211.9h0M287.5 212.3h0M289.9 212.8h0M292.4 213.3h0M294.9 213.8h0M297.4 214.4h0M299.8 214.9h0M302.3 215.5h0M304.8 216.0h0M307.3 216.7h0M309.8 217.3h0M312.2 218.0h0M314.7 218.7h0M317.2 219.5h0M244.4 219.5h0M246.9 218.3h0M249.3 217.1h0M251.8 216.0h0M254.3 214.9h0M256.7 214.0h0M259.2 213.2h0M261.7 212.4h0M264.1 211.6h0M266.6 210.9h0M269.1 210.1h0M271.5 209.5h0M274.0 209.0h0M276.5 208.7h0M278.9 208.5h0M281.4 208.6h0M283.8 209.0h0M286.3 209.4h0M288.7 210.1h0M291.2 210.8h0M293.6 211.5h0M296.1 212.3h0M298.6 213.0h0M301.0 213.7h0M303.5 214.4h0M305.9 215.2h0M308.4 216.0h0M310.8 216.8h0M313.3 217.7h0M315.7 218.6h0M318.2 219.5h0M340.1 219.5h0M342.5 218.7h0M345.0 217.8h0M347.4 217.1h0M349.9 216.4h0M352.3 215.7h0M354.7 215.2h0M357.2 214.7h0M359.6 214.2h0M362.1 213.8h0M364.5 213.4h0M366.9 213.1h0M369.4 212.7h0M371.8 212.5h0M374.3 212.2h0M376.7 212.1h0" stroke="#2236a0" stroke-width="2.15" stroke-linecap="round" fill="none" opacity="1"/>
<path d="M232.6 141.5h0M235.2 141.5h0M237.8 141.8h0M240.4 142.1h0M243.0 142.5h0M245.6 143.0h0M248.2 143.7h0M250.7 144.7h0M253.3 145.9h0M255.9 148.0h0M258.5 150.5h0M261.1 153.4h0M259.6 142.9h0M261.8 144.1h0M264.0 145.7h0M266.2 147.6h0M268.4 150.2h0M289.9 150.2h0M292.3 148.1h0M294.8 146.2h0M297.2 144.5h0M299.7 142.9h0M286.5 151.8h0M289.6 149.9h0M292.7 148.3h0M295.8 146.8h0M298.9 145.3h0M302.0 144.1h0M305.1 143.4h0M308.2 142.8h0M311.3 142.3h0M314.4 142.0h0M317.5 141.7h0M320.6 141.6h0" stroke="#b00c28" stroke-width="1.90" stroke-linecap="round" fill="none" opacity="1"/>
<path d="M230.2 141.5h0M233.5 141.5h0M236.7 141.6h0M240.0 141.6h0M320.6 141.5h0M323.1 141.5h0M325.7 141.5h0M328.2 141.4h0M330.8 141.4h0M333.3 141.4h0M335.9 141.4h0M338.4 141.4h0M341.0 141.4h0M343.5 141.4h0M346.1 141.4h0M348.6 141.4h0M351.2 141.4h0M353.7 141.4h0M356.3 141.3h0M358.8 141.3h0M361.4 141.3h0M363.9 141.3h0M366.5 141.3h0M369.0 141.3h0M371.6 141.3h0M374.1 141.3h0M376.7 141.3h0" stroke="#f09a3c" stroke-width="1.30" stroke-linecap="round" fill="none" opacity="1"/>
<path d="M271.8 196.1h0M274.3 196.1h0M276.8 196.1h0M279.2 196.1h0M281.6 196.1h0M284.1 196.1h0M286.5 196.1h0" stroke="#f3d27a" stroke-width="1.60" stroke-linecap="round" fill="none" opacity="1"/>
<path d="M408.6 88.9h0M411.1 86.9h0M413.5 85.0h0M416.0 83.2h0M418.5 81.6h0M421.0 80.2h0M423.4 78.8h0M425.9 77.6h0M428.4 76.5h0M430.8 75.6h0M433.3 74.7h0M435.8 74.0h0M438.3 73.3h0M440.7 72.7h0M443.2 72.3h0M445.7 71.9h0M448.1 71.6h0M450.6 71.4h0M453.1 71.2h0M455.6 71.2h0M458.0 71.2h0M460.5 71.4h0M463.0 71.9h0M465.4 72.6h0M467.9 73.5h0M470.4 74.6h0M472.8 75.7h0M475.3 76.9h0M477.8 78.2h0M480.2 79.4h0M482.7 80.7h0M485.1 82.2h0M487.6 83.8h0M490.1 85.6h0M492.5 87.4h0M495.0 89.1h0M497.5 90.7h0M499.9 92.4h0M502.4 94.0h0M504.9 94.9h0M507.4 94.9h0M509.9 94.5h0M512.4 93.8h0M514.9 93.1h0M517.4 92.3h0M519.9 91.7h0M522.4 91.3h0M525.0 90.9h0M527.5 90.5h0M530.0 90.2h0M532.5 89.8h0M535.0 89.6h0M537.5 89.4h0M540.0 89.2h0M542.5 89.1h0M545.1 89.0h0M547.6 88.9h0M550.1 88.8h0M552.6 88.7h0M555.1 88.7h0M408.6 95.0h0M411.0 95.2h0M413.5 95.7h0M415.9 96.6h0M418.3 97.8h0M420.8 99.3h0M423.2 101.0h0M425.6 103.0h0M428.0 105.1h0M430.5 107.3h0M432.9 109.6h0M435.3 111.9h0M437.8 114.1h0M440.2 116.2h0M442.6 118.2h0M445.1 119.9h0M447.5 121.4h0M449.9 122.6h0M452.3 123.5h0M454.8 124.0h0M457.2 124.2h0M457.2 124.2h0M459.7 123.5h0M462.2 122.6h0M464.7 121.5h0M467.1 120.2h0M469.6 118.6h0M472.1 116.5h0M474.6 114.3h0M477.1 112.1h0M479.6 110.1h0M482.1 108.4h0M484.6 106.8h0M487.0 105.3h0M489.5 103.9h0M492.0 102.4h0M494.5 101.0h0M497.0 99.6h0M499.5 97.9h0M502.0 96.3h0M504.5 95.2h0M507.0 94.9h0M509.5 94.8h0M512.0 94.7h0M514.6 94.6h0M517.1 94.6h0M519.6 94.5h0M522.2 94.5h0M524.7 94.5h0M527.2 94.6h0M529.8 94.6h0M532.3 94.6h0M534.8 94.6h0M537.4 94.7h0M539.9 94.8h0M542.4 94.8h0M545.0 94.9h0M547.5 95.1h0M550.0 95.2h0M552.6 95.3h0M555.1 95.5h0M457.2 124.2h0M459.7 123.8h0M462.2 123.3h0M464.7 122.6h0M467.1 121.9h0M469.6 120.8h0M472.1 119.3h0M474.6 117.7h0M477.1 116.2h0M479.6 115.0h0M482.1 114.1h0M484.6 113.1h0M487.0 112.2h0M489.5 111.3h0M492.0 110.4h0M494.5 109.7h0M497.0 109.0h0M499.5 108.5h0M502.0 108.1h0M504.5 107.9h0M507.0 108.0h0M509.5 108.2h0M512.0 108.7h0M514.6 109.4h0M517.1 110.2h0M519.6 111.1h0M522.2 112.1h0M524.7 113.0h0M527.2 113.8h0M529.8 114.5h0M532.3 115.1h0M534.8 115.7h0M537.4 116.3h0M539.9 116.8h0M542.4 117.4h0M545.0 117.9h0M547.5 118.4h0M550.0 118.9h0M552.6 119.4h0M555.1 119.8h0M408.6 119.8h0M411.0 119.9h0M413.5 119.9h0M415.9 120.0h0M418.3 120.0h0M420.8 120.1h0M423.2 120.3h0M425.6 120.4h0M428.0 120.5h0M430.5 120.7h0M432.9 120.8h0M435.3 121.0h0M437.8 121.2h0M440.2 121.5h0M442.6 121.8h0M445.1 122.1h0M447.5 122.5h0M449.9 122.9h0M452.3 123.3h0M454.8 123.7h0M457.2 124.2h0M408.6 138.9h0M411.1 138.9h0M413.5 138.9h0M416.0 138.9h0M418.5 138.9h0M421.0 138.9h0M423.4 138.9h0M425.9 138.9h0M428.4 138.9h0M430.8 138.9h0M433.3 138.9h0M435.8 138.9h0M438.3 138.9h0M440.7 138.9h0M443.2 138.9h0M445.7 138.9h0M448.1 138.9h0M450.6 138.9h0M453.1 138.9h0M455.6 138.9h0M458.0 138.9h0M460.5 138.9h0M463.0 138.9h0M465.4 138.9h0M467.9 138.9h0M470.4 138.9h0M472.8 138.9h0M475.3 138.9h0M477.8 138.9h0M480.2 138.9h0M482.7 138.9h0M485.1 138.9h0M487.6 138.9h0M490.1 138.9h0M492.5 138.9h0M495.0 138.9h0M497.5 138.9h0M499.9 138.9h0M502.4 138.9h0M504.9 138.9h0M507.4 138.9h0M509.9 138.9h0M512.4 138.9h0M514.9 138.9h0M517.4 138.9h0M519.9 138.9h0M522.4 138.9h0M525.0 138.9h0M527.5 138.9h0M530.0 138.9h0M532.5 138.9h0M535.0 138.9h0M537.5 138.9h0M540.0 138.9h0M542.5 138.9h0M545.1 138.9h0M547.6 138.9h0M550.1 138.9h0M552.6 138.9h0M555.1 138.9h0M408.6 140.0h0M411.1 140.0h0M413.5 140.0h0M416.0 140.0h0M418.5 140.0h0M421.0 140.0h0M423.4 140.0h0M425.9 140.0h0M428.4 140.0h0M430.8 140.0h0M433.3 140.0h0M435.8 140.0h0M438.3 140.0h0M440.7 140.0h0M443.2 140.0h0M445.7 140.0h0M448.1 140.0h0M450.6 140.0h0M453.1 140.0h0M455.6 140.0h0M458.0 140.0h0M460.5 140.0h0M463.0 140.0h0M465.4 140.0h0M467.9 140.0h0M470.4 140.0h0M472.8 140.0h0M475.3 140.0h0M477.8 140.0h0M480.2 140.0h0M482.7 140.0h0M485.1 140.0h0M487.6 140.0h0M490.1 140.0h0M492.5 140.0h0M495.0 140.0h0M497.5 140.0h0M499.9 140.0h0M502.4 140.0h0M504.9 140.0h0M507.4 140.0h0M509.9 140.0h0M512.4 140.0h0M514.9 140.0h0M517.4 140.0h0M519.9 140.0h0M522.4 140.0h0M525.0 140.0h0M527.5 140.0h0M530.0 140.0h0M532.5 140.0h0M535.0 140.0h0M537.5 140.0h0M540.0 140.0h0M542.5 140.0h0M545.1 140.0h0M547.6 140.0h0M550.1 140.0h0M552.6 140.0h0M555.1 140.0h0M408.6 141.0h0M411.1 141.0h0M413.5 141.0h0M416.0 141.0h0M418.5 141.0h0M421.0 141.0h0M423.4 141.0h0M425.9 141.0h0M428.4 141.0h0M430.8 141.0h0M433.3 141.0h0M435.8 141.0h0M438.3 141.0h0M440.7 141.0h0M443.2 141.0h0M445.7 141.0h0M448.1 141.0h0M450.6 141.0h0M453.1 141.0h0M455.6 141.0h0M458.0 141.0h0M460.5 141.0h0M463.0 141.0h0M465.4 141.0h0M467.9 141.0h0M470.4 141.0h0M472.8 141.0h0M475.3 141.0h0M477.8 141.0h0M480.2 141.0h0M482.7 141.0h0M485.1 141.0h0M487.6 141.0h0M490.1 141.0h0M492.5 141.0h0M495.0 141.0h0M497.5 141.0h0M499.9 141.0h0M502.4 141.0h0M504.9 141.0h0M507.4 141.0h0M509.9 141.0h0M512.4 141.0h0M514.9 141.0h0M517.4 141.0h0M519.9 141.0h0M522.4 141.0h0M525.0 141.0h0M527.5 141.0h0M530.0 141.0h0M532.5 141.0h0M535.0 141.0h0M537.5 141.0h0M540.0 141.0h0M542.5 141.0h0M545.1 141.0h0M547.6 141.0h0M550.1 141.0h0M552.6 141.0h0M555.1 141.0h0M408.6 163.5h0M411.1 163.4h0M413.5 163.1h0M416.0 162.8h0M418.5 162.3h0M421.0 161.9h0M423.4 161.4h0M425.9 160.8h0M428.4 160.0h0M430.8 159.1h0M433.3 158.2h0M435.8 157.3h0M438.3 156.5h0M440.7 155.6h0M443.2 154.8h0M445.7 154.0h0M448.1 153.4h0M450.6 153.0h0M453.1 152.6h0M455.6 152.3h0M458.0 152.3h0M460.5 152.6h0M463.0 153.1h0M465.4 153.8h0M467.9 154.5h0M470.4 155.5h0M472.8 156.7h0M475.3 158.0h0M477.8 159.5h0M480.2 160.8h0M482.7 162.1h0M485.1 163.5h0M487.6 165.1h0M490.1 166.7h0M492.5 168.3h0M495.0 169.8h0M497.5 171.1h0M499.9 172.2h0M502.4 173.0h0M504.9 173.4h0M507.4 173.4h0M509.9 173.2h0M512.4 172.9h0M514.9 172.6h0M517.4 172.2h0M519.9 171.7h0M522.4 171.2h0M525.0 170.6h0M527.5 170.1h0M530.0 169.6h0M532.5 169.1h0M535.0 168.6h0M537.5 168.0h0M540.0 167.4h0M542.5 166.8h0M545.1 166.1h0M547.6 165.4h0M550.1 164.7h0M552.6 164.0h0M555.1 163.2h0M408.6 181.0h0M411.1 179.8h0M413.5 178.5h0M416.0 177.1h0M418.5 175.7h0M421.0 174.2h0M423.4 172.6h0M425.9 170.8h0M428.4 168.9h0M430.8 166.8h0M433.3 164.8h0M435.8 162.9h0M438.3 161.1h0M440.7 159.4h0M443.2 157.7h0M445.7 156.3h0M448.1 155.2h0M450.6 154.4h0M453.1 153.6h0M455.6 153.2h0M458.0 153.1h0M460.5 153.4h0M463.0 153.9h0M465.4 154.6h0M467.9 155.3h0M470.4 156.3h0M472.8 157.6h0M475.3 159.1h0M477.8 160.7h0M480.2 162.3h0M482.7 163.9h0M485.1 165.7h0M487.6 167.7h0M490.1 169.9h0M492.5 172.1h0M495.0 174.2h0M497.5 176.2h0M499.9 178.0h0M502.4 179.5h0M504.9 180.5h0M507.4 181.2h0M509.9 181.8h0M512.4 182.3h0M514.9 182.8h0M517.4 183.2h0M519.9 183.5h0M522.4 183.9h0M525.0 184.2h0M527.5 184.5h0M530.0 184.8h0M532.5 185.1h0M535.0 185.4h0M537.5 185.7h0M540.0 185.9h0M542.5 186.2h0M545.1 186.4h0M547.6 186.7h0M550.1 186.9h0M552.6 187.1h0M555.1 187.2h0M474.2 193.7h0M476.7 193.1h0M479.2 192.3h0M481.7 191.5h0M484.2 190.7h0M486.7 189.8h0M489.2 188.8h0M491.7 187.8h0M494.2 186.5h0M496.7 184.9h0M499.2 183.3h0M501.7 181.9h0M504.2 181.0h0M506.7 180.8h0M509.3 180.7h0M511.8 180.7h0M514.3 180.6h0M516.9 180.6h0M519.4 180.5h0M522.0 180.5h0M524.5 180.5h0M527.1 180.5h0M529.6 180.5h0M532.2 180.5h0M534.7 180.5h0M537.3 180.5h0M539.8 180.5h0M542.4 180.5h0M544.9 180.5h0M547.5 180.5h0M550.0 180.5h0M552.6 180.5h0M555.1 180.5h0M408.6 187.2h0M411.0 188.0h0M413.5 188.8h0M415.9 189.5h0M418.3 190.1h0M420.8 190.8h0M423.2 191.3h0M425.6 191.8h0M428.0 192.3h0M430.5 192.6h0M432.9 192.9h0M435.3 193.1h0M437.8 193.3h0M440.2 193.5h0M442.6 193.7h0M445.1 193.9h0M447.5 194.1h0M449.9 194.2h0M452.3 194.3h0M454.8 194.3h0M457.2 194.3h0M408.6 194.3h0M411.1 194.4h0M413.5 194.5h0M416.0 194.6h0M418.5 194.7h0M421.0 194.7h0M423.4 194.8h0M425.9 194.9h0M428.4 194.9h0M430.8 195.0h0M433.3 195.0h0M435.8 195.1h0M438.3 195.1h0M440.7 195.2h0M443.2 195.2h0M445.7 195.2h0M448.1 195.3h0M450.6 195.3h0M453.1 195.3h0M455.6 195.3h0M458.0 195.3h0M460.5 195.3h0M463.0 195.3h0M465.4 195.3h0M467.9 195.3h0M470.4 195.3h0M472.8 195.2h0M475.3 195.2h0M477.8 195.2h0M480.2 195.2h0M482.7 195.1h0M485.1 195.1h0M487.6 195.1h0M490.1 195.1h0M492.5 195.0h0M495.0 195.0h0M497.5 195.0h0M499.9 195.0h0M502.4 195.0h0M504.9 195.0h0M507.4 195.0h0M509.9 195.0h0M512.4 195.0h0M514.9 195.0h0M517.4 195.0h0M519.9 195.0h0M522.4 195.0h0M525.0 195.0h0M527.5 195.0h0M530.0 195.0h0M532.5 195.0h0M535.0 195.0h0M537.5 195.0h0M540.0 195.0h0M542.5 195.0h0M545.1 195.0h0M547.6 195.0h0M550.1 195.0h0M552.6 195.0h0M555.1 195.0h0M408.6 196.3h0M411.1 196.3h0M413.5 196.3h0M416.0 196.4h0M418.5 196.4h0M421.0 196.4h0M423.4 196.5h0M425.9 196.5h0M428.4 196.5h0M430.8 196.6h0M433.3 196.6h0M435.8 196.6h0M438.3 196.7h0M440.7 196.7h0M443.2 196.7h0M445.7 196.8h0M448.1 196.8h0M450.6 196.8h0M453.1 196.9h0M455.6 196.9h0M458.0 196.9h0M460.5 197.0h0M463.0 197.0h0M465.4 197.0h0M467.9 197.1h0M470.4 197.1h0M472.8 197.2h0M475.3 197.2h0M477.8 197.2h0M480.2 197.3h0M482.7 197.3h0M485.1 197.4h0M487.6 197.4h0M490.1 197.4h0M492.5 197.5h0M495.0 197.5h0M497.5 197.5h0M499.9 197.5h0M502.4 197.5h0M504.9 197.6h0M507.4 197.6h0M509.9 197.6h0M512.4 197.6h0M514.9 197.6h0M517.4 197.6h0M519.9 197.6h0M522.4 197.7h0M525.0 197.7h0M527.5 197.7h0M530.0 197.7h0M532.5 197.7h0M535.0 197.7h0M537.5 197.7h0M540.0 197.7h0M542.5 197.7h0M545.1 197.7h0M547.6 197.7h0M550.1 197.7h0M552.6 197.7h0M555.1 197.7h0M408.6 200.5h0M411.1 200.5h0M413.5 200.5h0M416.0 200.5h0M418.5 200.5h0M421.0 200.6h0M423.4 200.6h0M425.9 200.6h0M428.4 200.6h0M430.8 200.6h0M433.3 200.6h0M435.8 200.7h0M438.3 200.7h0M440.7 200.7h0M443.2 200.7h0M445.7 200.7h0M448.1 200.7h0M450.6 200.8h0M453.1 200.8h0M455.6 200.8h0M458.0 200.8h0M460.5 200.8h0M463.0 200.8h0M465.4 200.8h0M467.9 200.9h0M470.4 200.9h0M472.8 200.9h0M475.3 200.9h0M477.8 200.9h0M480.2 200.9h0M482.7 201.0h0M485.1 201.0h0M487.6 201.0h0M490.1 201.0h0M492.5 201.0h0M495.0 201.0h0M497.5 201.1h0M499.9 201.1h0M502.4 201.1h0M504.9 201.1h0M507.4 201.1h0M509.9 201.1h0M512.4 201.2h0M514.9 201.2h0M517.4 201.2h0M519.9 201.2h0M522.4 201.2h0M525.0 201.2h0M527.5 201.3h0M530.0 201.3h0M532.5 201.3h0M535.0 201.3h0M537.5 201.3h0M540.0 201.3h0M542.5 201.4h0M545.1 201.4h0M547.6 201.4h0M550.1 201.4h0M552.6 201.4h0M555.1 201.4h0M408.6 202.6h0M411.1 202.6h0M413.5 202.6h0M416.0 202.6h0M418.5 202.7h0M421.0 202.7h0M423.4 202.7h0M425.9 202.7h0M428.4 202.8h0M430.8 202.8h0M433.3 202.8h0M435.8 202.9h0M438.3 202.9h0M440.7 202.9h0M443.2 202.9h0M445.7 203.0h0M448.1 203.0h0M450.6 203.0h0M453.1 203.0h0M455.6 203.1h0M458.0 203.1h0M460.5 203.1h0M463.0 203.2h0M465.4 203.2h0M467.9 203.2h0M470.4 203.2h0M472.8 203.3h0M475.3 203.3h0M477.8 203.3h0M480.2 203.4h0M482.7 203.4h0M485.1 203.4h0M487.6 203.5h0M490.1 203.5h0M492.5 203.5h0M495.0 203.5h0M497.5 203.6h0M499.9 203.6h0M502.4 203.6h0M504.9 203.7h0M507.4 203.7h0M509.9 203.7h0M512.4 203.8h0M514.9 203.8h0M517.4 203.8h0M519.9 203.9h0M522.4 203.9h0M525.0 203.9h0M527.5 204.0h0M530.0 204.0h0M532.5 204.0h0M535.0 204.1h0M537.5 204.1h0M540.0 204.1h0M542.5 204.2h0M545.1 204.2h0M547.6 204.2h0M550.1 204.3h0M552.6 204.3h0M555.1 204.3h0M408.6 205.5h0M411.1 205.5h0M413.5 205.5h0M416.0 205.5h0M418.5 205.5h0M421.0 205.5h0M423.4 205.5h0M425.9 205.5h0M428.4 205.5h0M430.8 205.5h0M433.3 205.5h0M435.8 205.5h0M438.3 205.5h0M440.7 205.5h0M443.2 205.5h0M445.7 205.5h0M448.1 205.5h0M450.6 205.5h0M453.1 205.5h0M455.6 205.5h0M458.0 205.5h0M460.5 205.5h0M463.0 205.5h0M465.4 205.5h0M467.9 205.5h0M470.4 205.5h0M472.8 205.5h0M475.3 205.5h0M477.8 205.5h0M480.2 205.5h0M482.7 205.5h0M485.1 205.5h0M487.6 205.5h0M490.1 205.5h0M492.5 205.5h0M495.0 205.5h0M497.5 205.5h0M499.9 205.5h0M502.4 205.5h0M504.9 205.5h0M507.4 205.5h0M509.9 205.5h0M512.4 205.5h0M514.9 205.6h0M517.4 205.6h0M519.9 205.6h0M522.4 205.6h0M525.0 205.6h0M527.5 205.6h0M530.0 205.6h0M532.5 205.7h0M535.0 205.7h0M537.5 205.7h0M540.0 205.7h0M542.5 205.7h0M545.1 205.7h0M547.6 205.7h0M550.1 205.8h0M552.6 205.8h0M555.1 205.8h0M408.6 212.2h0M411.1 212.1h0M413.6 212.0h0M416.1 211.9h0M418.6 211.8h0M421.1 211.8h0M423.6 211.7h0M426.1 211.6h0M428.6 211.6h0M431.1 211.6h0M433.6 211.5h0M436.1 211.5h0M438.6 211.5h0M441.1 211.5h0M443.6 211.5h0M446.1 211.4h0M448.6 211.4h0M451.1 211.4h0M453.6 211.4h0M456.1 211.4h0M458.6 211.5h0M461.1 211.6h0M463.6 212.0h0M466.1 212.4h0M468.6 212.9h0M471.1 213.5h0M473.6 214.0h0M476.0 214.6h0M478.5 215.1h0M481.0 215.6h0M483.5 216.2h0M486.0 216.8h0M488.5 217.4h0M491.0 218.1h0M493.5 218.8h0M496.0 219.5h0M422.7 219.5h0M425.2 218.2h0M427.7 217.1h0M430.1 215.9h0M432.6 214.9h0M435.1 213.9h0M437.6 213.1h0M440.0 212.3h0M442.5 211.5h0M445.0 210.8h0M447.5 210.1h0M450.0 209.4h0M452.4 208.9h0M454.9 208.6h0M457.4 208.5h0M459.9 208.7h0M462.3 209.0h0M464.8 209.5h0M467.3 210.1h0M469.8 210.8h0M472.2 211.5h0M474.7 212.2h0M477.2 212.9h0M479.7 213.6h0M482.1 214.3h0M484.6 215.1h0M487.1 215.9h0M489.5 216.7h0M492.0 217.6h0M494.5 218.5h0M497.0 219.5h0M516.6 219.5h0M519.1 218.7h0M521.7 217.9h0M524.3 217.2h0M526.8 216.5h0M529.4 215.9h0M532.0 215.3h0M534.5 214.8h0M537.1 214.4h0M539.7 214.0h0M542.3 213.6h0M544.8 213.2h0M547.4 212.9h0M550.0 212.6h0M552.5 212.4h0M555.1 212.2h0" stroke="#2236a0" stroke-width="2.15" stroke-linecap="round" fill="none" opacity="1"/>
<path d="M408.6 141.5h0M411.4 141.5h0M414.3 141.7h0M417.1 142.0h0M419.9 142.3h0M422.7 142.8h0M425.6 143.8h0M428.4 145.1h0M431.2 146.5h0M434.0 147.9h0M436.9 150.1h0M439.7 155.0h0M435.3 142.1h0M437.5 142.9h0M439.7 144.7h0M441.9 147.3h0M444.1 151.8h0M470.3 151.8h0M472.5 147.3h0M474.7 144.7h0M476.8 142.9h0M479.0 142.1h0M474.7 155.0h0M477.5 150.1h0M480.3 147.9h0M483.1 146.5h0M485.9 145.1h0M488.8 143.8h0M491.6 142.8h0M494.4 142.3h0M497.2 142.0h0M500.1 141.7h0M502.9 141.5h0M505.7 141.5h0" stroke="#b00c28" stroke-width="1.90" stroke-linecap="round" fill="none" opacity="1"/>
<path d="M505.7 141.5h0M508.2 141.5h0M510.6 141.5h0M513.1 141.4h0M515.6 141.4h0M518.0 141.4h0M520.5 141.4h0M523.0 141.4h0M525.5 141.4h0M527.9 141.4h0M530.4 141.4h0M532.9 141.4h0M535.3 141.3h0M537.8 141.3h0M540.3 141.3h0M542.8 141.3h0M545.2 141.3h0M547.7 141.3h0M550.2 141.3h0M552.6 141.3h0M555.1 141.3h0" stroke="#f09a3c" stroke-width="1.30" stroke-linecap="round" fill="none" opacity="1"/>
<path d="M449.9 198.5h0M452.3 198.5h0M454.8 198.5h0M457.2 198.5h0M459.6 198.5h0M462.0 198.5h0M464.5 198.5h0" stroke="#f3d27a" stroke-width="1.60" stroke-linecap="round" fill="none" opacity="1"/>
<path d="M83.6 42.9h0M91.1 44.5h0M115.6 44.0h0M86.2 58.7h0M108.4 59.1h0M89.0 72.4h0M94.0 70.4h0M110.9 77.1h0M91.1 83.5h0M106.1 83.5h0M96.0 88.2h0M108.1 87.9h0M94.0 91.2h0M105.7 95.2h0M96.5 96.5h0M98.6 98.5h0M100.9 99.8h0M103.1 98.5h0M103.4 96.5h0" stroke="#b00c28" stroke-width="2.30" stroke-linecap="round" fill="none"/>
<path d="M83.9 159.7h0M91.3 160.2h0M86.3 165.2h0M108.4 165.2h0M113.1 167.1h0M88.6 173.9h0M93.8 172.3h0M110.7 177.9h0M91.3 185.0h0M106.0 185.0h0M96.1 192.0h0M108.4 192.0h0M93.9 197.0h0M105.8 210.8h0M95.8 215.6h0M103.4 215.6h0" stroke="#b00c28" stroke-width="2.30" stroke-linecap="round" fill="none"/>
<path d="M262.2 42.9h0M269.7 44.5h0M294.2 44.0h0M264.8 58.7h0M287.0 59.1h0M267.6 72.4h0M272.6 70.4h0M289.5 77.1h0M269.7 83.5h0M284.7 83.5h0M274.6 88.2h0M286.7 87.9h0M272.6 91.2h0M284.3 95.2h0M275.1 96.5h0M277.2 98.5h0M279.5 99.8h0M281.7 98.5h0M282.0 96.5h0M291.2 62.0h0" stroke="#b00c28" stroke-width="2.30" stroke-linecap="round" fill="none"/>
<path d="M262.5 159.7h0M269.9 160.2h0M264.9 165.2h0M287.0 165.2h0M291.7 167.1h0M267.2 173.9h0M272.4 172.3h0M289.3 177.9h0M269.9 185.0h0M284.6 185.0h0M274.7 192.0h0M287.0 192.0h0M272.5 197.0h0M284.4 210.8h0M274.4 215.6h0M282.0 215.6h0" stroke="#b00c28" stroke-width="2.30" stroke-linecap="round" fill="none"/>
<path d="M440.2 42.9h0M447.7 44.5h0M472.2 44.0h0M442.8 58.7h0M465.0 59.1h0M445.6 72.4h0M450.6 70.4h0M467.5 77.1h0M447.7 83.5h0M462.7 83.5h0M452.6 88.2h0M464.7 87.9h0M450.6 91.2h0M462.3 95.2h0M453.1 96.5h0M455.2 98.5h0M457.5 99.8h0M459.7 98.5h0M460.0 96.5h0M469.2 62.0h0" stroke="#b00c28" stroke-width="2.30" stroke-linecap="round" fill="none"/>
<path d="M440.5 159.7h0M447.9 160.2h0M442.9 165.2h0M465.0 165.2h0M469.7 167.1h0M445.2 173.9h0M450.4 172.3h0M467.3 177.9h0M447.9 185.0h0M462.6 185.0h0M452.7 192.0h0M465.0 192.0h0M450.5 197.0h0M462.4 210.8h0M452.4 215.6h0M460.0 215.6h0" stroke="#b00c28" stroke-width="2.30" stroke-linecap="round" fill="none"/>
<rect x="52.5" y="25.5" width="146.0" height="194.0" fill="none" stroke="#8c8c8c" stroke-width="1"/>
<path d="M52.5 219.5h1.6M198.6 219.5h-1.6M52.5 187.2h1.6M198.6 187.2h-1.6M52.5 155.0h1.6M198.6 155.0h-1.6M52.5 122.8h1.6M198.6 122.8h-1.6M52.5 90.5h1.6M198.6 90.5h-1.6M52.5 58.2h1.6M198.6 58.2h-1.6M52.5 26.0h1.6M198.6 26.0h-1.6M100.6 219.5v-1.6M100.6 26.0v1.6M150.0 219.5v-1.6M150.0 26.0v1.6" stroke="#7a7a7a" stroke-width="0.8" fill="none"/>
<text x="47.0" y="223.8" font-family='"Liberation Sans", sans-serif' font-size="12.00" font-weight="normal" font-style="normal" fill="#111" text-anchor="end" >2</text>
<text x="47.0" y="191.6" font-family='"Liberation Sans", sans-serif' font-size="12.00" font-weight="normal" font-style="normal" fill="#111" text-anchor="end" >4</text>
<text x="47.0" y="159.3" font-family='"Liberation Sans", sans-serif' font-size="12.00" font-weight="normal" font-style="normal" fill="#111" text-anchor="end" >6</text>
<text x="47.0" y="127.0" font-family='"Liberation Sans", sans-serif' font-size="12.00" font-weight="normal" font-style="normal" fill="#111" text-anchor="end" >8</text>
<text x="47.0" y="94.8" font-family='"Liberation Sans", sans-serif' font-size="12.00" font-weight="normal" font-style="normal" fill="#111" text-anchor="end" >10</text>
<text x="47.0" y="62.5" font-family='"Liberation Sans", sans-serif' font-size="12.00" font-weight="normal" font-style="normal" fill="#111" text-anchor="end" >12</text>
<text x="47.0" y="30.3" font-family='"Liberation Sans", sans-serif' font-size="12.00" font-weight="normal" font-style="normal" fill="#111" text-anchor="end" >14</text>
<text x="52.5" y="235.5" font-family='"Liberation Sans", sans-serif' font-size="12.00" font-weight="normal" font-style="normal" fill="#111" text-anchor="middle" >M</text>
<text x="96.5" y="235.3" font-family='"Liberation Serif", serif' font-size="12.00" font-weight="normal" font-style="normal" fill="#111" text-anchor="start" textLength="8.2" lengthAdjust="spacingAndGlyphs">Γ</text>
<text x="150.0" y="235.5" font-family='"Liberation Sans", sans-serif' font-size="12.00" font-weight="normal" font-style="normal" fill="#111" text-anchor="middle" >K</text>
<text x="198.6" y="235.5" font-family='"Liberation Sans", sans-serif' font-size="12.00" font-weight="normal" font-style="normal" fill="#111" text-anchor="middle" >M</text>
<text x="127.8" y="252.4" font-family='"Liberation Sans", sans-serif' font-size="15.00" font-weight="normal" font-style="normal" fill="#111" text-anchor="middle" >Wavevector</text>
<rect x="230.5" y="25.5" width="146.0" height="194.0" fill="none" stroke="#8c8c8c" stroke-width="1"/>
<path d="M230.2 219.5h1.6M376.7 219.5h-1.6M230.2 187.2h1.6M376.7 187.2h-1.6M230.2 155.0h1.6M376.7 155.0h-1.6M230.2 122.8h1.6M376.7 122.8h-1.6M230.2 90.5h1.6M376.7 90.5h-1.6M230.2 58.2h1.6M376.7 58.2h-1.6M230.2 26.0h1.6M376.7 26.0h-1.6M279.2 219.5v-1.6M279.2 26.0v1.6M327.9 219.5v-1.6M327.9 26.0v1.6" stroke="#7a7a7a" stroke-width="0.8" fill="none"/>
<text x="224.7" y="223.8" font-family='"Liberation Sans", sans-serif' font-size="12.00" font-weight="normal" font-style="normal" fill="#111" text-anchor="end" >2</text>
<text x="224.7" y="191.6" font-family='"Liberation Sans", sans-serif' font-size="12.00" font-weight="normal" font-style="normal" fill="#111" text-anchor="end" >4</text>
<text x="224.7" y="159.3" font-family='"Liberation Sans", sans-serif' font-size="12.00" font-weight="normal" font-style="normal" fill="#111" text-anchor="end" >6</text>
<text x="224.7" y="127.0" font-family='"Liberation Sans", sans-serif' font-size="12.00" font-weight="normal" font-style="normal" fill="#111" text-anchor="end" >8</text>
<text x="224.7" y="94.8" font-family='"Liberation Sans", sans-serif' font-size="12.00" font-weight="normal" font-style="normal" fill="#111" text-anchor="end" >10</text>
<text x="224.7" y="62.5" font-family='"Liberation Sans", sans-serif' font-size="12.00" font-weight="normal" font-style="normal" fill="#111" text-anchor="end" >12</text>
<text x="224.7" y="30.3" font-family='"Liberation Sans", sans-serif' font-size="12.00" font-weight="normal" font-style="normal" fill="#111" text-anchor="end" >14</text>
<text x="230.2" y="235.5" font-family='"Liberation Sans", sans-serif' font-size="12.00" font-weight="normal" font-style="normal" fill="#111" text-anchor="middle" >M</text>
<text x="275.1" y="235.3" font-family='"Liberation Serif", serif' font-size="12.00" font-weight="normal" font-style="normal" fill="#111" text-anchor="start" textLength="8.2" lengthAdjust="spacingAndGlyphs">Γ</text>
<text x="327.9" y="235.5" font-family='"Liberation Sans", sans-serif' font-size="12.00" font-weight="normal" font-style="normal" fill="#111" text-anchor="middle" >K</text>
<text x="376.7" y="235.5" font-family='"Liberation Sans", sans-serif' font-size="12.00" font-weight="normal" font-style="normal" fill="#111" text-anchor="middle" >M</text>
<text x="305.8" y="252.4" font-family='"Liberation Sans", sans-serif' font-size="15.00" font-weight="normal" font-style="normal" fill="#111" text-anchor="middle" >Wavevector</text>
<rect x="408.5" y="25.5" width="147.0" height="194.0" fill="none" stroke="#8c8c8c" stroke-width="1"/>
<path d="M408.6 219.5h1.6M555.1 219.5h-1.6M408.6 187.2h1.6M555.1 187.2h-1.6M408.6 155.0h1.6M555.1 155.0h-1.6M408.6 122.8h1.6M555.1 122.8h-1.6M408.6 90.5h1.6M555.1 90.5h-1.6M408.6 58.2h1.6M555.1 58.2h-1.6M408.6 26.0h1.6M555.1 26.0h-1.6M457.2 219.5v-1.6M457.2 26.0v1.6M505.7 219.5v-1.6M505.7 26.0v1.6" stroke="#7a7a7a" stroke-width="0.8" fill="none"/>
<text x="403.1" y="223.8" font-family='"Liberation Sans", sans-serif' font-size="12.00" font-weight="normal" font-style="normal" fill="#111" text-anchor="end" >2</text>
<text x="403.1" y="191.6" font-family='"Liberation Sans", sans-serif' font-size="12.00" font-weight="normal" font-style="normal" fill="#111" text-anchor="end" >4</text>
<text x="403.1" y="159.3" font-family='"Liberation Sans", sans-serif' font-size="12.00" font-weight="normal" font-style="normal" fill="#111" text-anchor="end" >6</text>
<text x="403.1" y="127.0" font-family='"Liberation Sans", sans-serif' font-size="12.00" font-weight="normal" font-style="normal" fill="#111" text-anchor="end" >8</text>
<text x="403.1" y="94.8" font-family='"Liberation Sans", sans-serif' font-size="12.00" font-weight="normal" font-style="normal" fill="#111" text-anchor="end" >10</text>
<text x="403.1" y="62.5" font-family='"Liberation Sans", sans-serif' font-size="12.00" font-weight="normal" font-style="normal" fill="#111" text-anchor="end" >12</text>
<text x="403.1" y="30.3" font-family='"Liberation Sans", sans-serif' font-size="12.00" font-weight="normal" font-style="normal" fill="#111" text-anchor="end" >14</text>
<text x="408.6" y="235.5" font-family='"Liberation Sans", sans-serif' font-size="12.00" font-weight="normal" font-style="normal" fill="#111" text-anchor="middle" >M</text>
<text x="453.1" y="235.3" font-family='"Liberation Serif", serif' font-size="12.00" font-weight="normal" font-style="normal" fill="#111" text-anchor="start" textLength="8.2" lengthAdjust="spacingAndGlyphs">Γ</text>
<text x="505.7" y="235.5" font-family='"Liberation Sans", sans-serif' font-size="12.00" font-weight="normal" font-style="normal" fill="#111" text-anchor="middle" >K</text>
<text x="555.1" y="235.5" font-family='"Liberation Sans", sans-serif' font-size="12.00" font-weight="normal" font-style="normal" fill="#111" text-anchor="middle" >M</text>
<text x="484.2" y="252.4" font-family='"Liberation Sans", sans-serif' font-size="15.00" font-weight="normal" font-style="normal" fill="#111" text-anchor="middle" >Wavevector</text>
<path d="M101.8 100.5H119.2M114.6 102V137" stroke="#222" stroke-width="0.85" fill="none"/>
<path d="M114.6 100.8l-1.9 4.8h3.8zM114.6 138.4l-1.9 -4.8h3.8z" fill="#111"/>
<path d="M280.2 100.5H295.8M291.3 102V137" stroke="#222" stroke-width="0.85" fill="none"/>
<path d="M291.3 100.8l-1.9 4.8h3.8zM291.3 138.4l-1.9 -4.8h3.8z" fill="#111"/>
<path d="M458.5 100.5H473.9M469.3 102V137" stroke="#222" stroke-width="0.85" fill="none"/>
<path d="M469.3 100.8l-1.9 4.8h3.8zM469.3 138.4l-1.9 -4.8h3.8z" fill="#111"/>
<text x="175.0" y="131.4" font-family='"Liberation Sans", sans-serif' font-size="9.30" font-weight="normal" font-style="normal" fill="#c8285a" text-anchor="middle" >CBG</text>
<text x="175.0" y="149.3" font-family='"Liberation Sans", sans-serif' font-size="9.30" font-weight="normal" font-style="normal" fill="#2a8c50" text-anchor="middle" >PBG</text>
<text x="535.3" y="134.2" font-family='"Liberation Sans", sans-serif' font-size="9.30" font-weight="normal" font-style="normal" fill="#c8285a" text-anchor="middle" >CBG</text>
<text x="535.3" y="150.2" font-family='"Liberation Sans", sans-serif' font-size="9.30" font-weight="normal" font-style="normal" fill="#2a8c50" text-anchor="middle" >PBG</text>
<rect x="571" y="95.7" width="4.6" height="58.3" fill="url(#cbar)"/>
<text x="569.9" y="91.0" font-family='"Liberation Serif", serif' font-size="7.80" font-weight="normal" font-style="normal" fill="#111" text-anchor="start" ><tspan font-style="italic">P</tspan><tspan font-size="5" dy="0.8">z</tspan></text>
<text x="576.8" y="99.2" font-family='"Liberation Sans", sans-serif' font-size="7.50" font-weight="normal" font-style="normal" fill="#111" text-anchor="start" >1</text>
<text x="577.3" y="156.4" font-family='"Liberation Sans", sans-serif' font-size="7.50" font-weight="normal" font-style="normal" fill="#111" text-anchor="start" >0</text>
<rect x="23.6" y="305.0" width="1.8" height="11.0" fill="#f4f0f0"/>
<rect x="24.0" y="305.0" width="0.6" height="11.0" fill="#fff" opacity="0.4"/>
<rect x="30.6" y="305.0" width="1.8" height="11.0" fill="#eaa4a8"/>
<rect x="31.0" y="305.0" width="0.6" height="11.0" fill="#fff" opacity="0.4"/>
<defs><linearGradient id="pg1" gradientUnits="userSpaceOnUse" x1="10.0" y1="295.6" x2="33.8" y2="313.3"><stop offset="0.00" stop-color="#6a74c0"/><stop offset="0.15" stop-color="#9a7088"/><stop offset="0.30" stop-color="#aa7c86"/><stop offset="0.45" stop-color="#a2a2be"/><stop offset="0.70" stop-color="#9498c4"/><stop offset="1.00" stop-color="#8a8ec0"/></linearGradient></defs>
<path d="M18.1 284.6L53.2 284.6L40.5 306.6L1.8 306.6Z" fill="url(#pg1)"/>
<defs><clipPath id="cp1"><path d="M18.1 284.6L53.2 284.6L40.5 306.6L1.8 306.6Z"/></clipPath></defs>
<defs><linearGradient id="pv2" x1="0" y1="0" x2="0" y2="1"><stop offset="0.00" stop-color="#ffffff" stop-opacity="0.25"/><stop offset="0.15" stop-color="#ffffff" stop-opacity="0.00"/><stop offset="1.00" stop-color="#ffffff" stop-opacity="0.00"/></linearGradient></defs>
<path d="M18.1 284.6L53.2 284.6L40.5 306.6L1.8 306.6Z" fill="url(#pv2)"/>
<path d="M1.8 306.3L40.5 306.3" stroke="#3040c0" stroke-width="0.8" opacity="0.7"/>
<rect x="21.6" y="281.5" width="1.9" height="10.5" fill="#d42626"/>
<rect x="23.5" y="281.5" width="1.9" height="10.5" fill="#f4f0f0"/>
<rect x="22.1" y="281.5" width="0.8" height="10.5" fill="#fff" opacity="0.3"/>
<ellipse cx="23.5" cy="281.7" rx="2.9" ry="2.6" fill="#eaa4a8"/>
<ellipse cx="22.9" cy="280.6" rx="1.5" ry="1.1" fill="#fff" opacity="0.6"/>
<rect x="30.6" y="281.5" width="1.9" height="10.5" fill="#f4f0f0"/>
<rect x="32.5" y="281.5" width="1.9" height="10.5" fill="#d42626"/>
<rect x="31.1" y="281.5" width="0.8" height="10.5" fill="#fff" opacity="0.3"/>
<ellipse cx="32.5" cy="281.7" rx="2.9" ry="2.6" fill="#a8b0f0"/>
<ellipse cx="31.9" cy="280.6" rx="1.5" ry="1.1" fill="#fff" opacity="0.6"/>
<rect x="16.7" y="289.0" width="1.8" height="8.0" fill="#d42626"/>
<rect x="18.5" y="289.0" width="1.8" height="8.0" fill="#f4f0f0"/>
<rect x="17.2" y="289.0" width="0.7" height="8.0" fill="#fff" opacity="0.3"/>
<ellipse cx="18.5" cy="289.2" rx="2.8" ry="2.6" fill="#d42626"/>
<ellipse cx="17.9" cy="288.1" rx="1.4" ry="1.1" fill="#fff" opacity="0.6"/>
<rect x="34.7" y="289.0" width="1.8" height="8.0" fill="#f4f0f0"/>
<rect x="36.5" y="289.0" width="1.8" height="8.0" fill="#d42626"/>
<rect x="35.2" y="289.0" width="0.7" height="8.0" fill="#fff" opacity="0.3"/>
<ellipse cx="36.5" cy="289.2" rx="2.8" ry="2.6" fill="#d42626"/>
<ellipse cx="35.9" cy="288.1" rx="1.4" ry="1.1" fill="#fff" opacity="0.6"/>
<rect x="22.8" y="297.0" width="2.0" height="4.0" fill="#1020f0"/>
<rect x="24.8" y="297.0" width="2.0" height="4.0" fill="#f4f0f0"/>
<rect x="23.3" y="297.0" width="0.8" height="4.0" fill="#fff" opacity="0.3"/>
<ellipse cx="24.8" cy="297.2" rx="3.0" ry="2.6" fill="#2233d8"/>
<ellipse cx="24.2" cy="296.1" rx="1.6" ry="1.1" fill="#fff" opacity="0.6"/>
<rect x="29.5" y="297.0" width="2.0" height="4.0" fill="#f4f0f0"/>
<rect x="31.5" y="297.0" width="2.0" height="4.0" fill="#1020f0"/>
<rect x="30.0" y="297.0" width="0.8" height="4.0" fill="#fff" opacity="0.3"/>
<ellipse cx="31.5" cy="297.2" rx="3.0" ry="2.6" fill="#2233d8"/>
<ellipse cx="30.9" cy="296.1" rx="1.6" ry="1.1" fill="#fff" opacity="0.6"/>
<rect x="60.6" y="305.0" width="1.8" height="7.0" fill="#d42626"/>
<rect x="61.0" y="305.0" width="0.6" height="7.0" fill="#fff" opacity="0.4"/>
<rect x="64.7" y="305.0" width="1.6" height="11.0" fill="#2233d8"/>
<rect x="65.1" y="305.0" width="0.6" height="11.0" fill="#fff" opacity="0.4"/>
<rect x="71.6" y="305.0" width="1.8" height="7.0" fill="#d42626"/>
<rect x="72.0" y="305.0" width="0.6" height="7.0" fill="#fff" opacity="0.4"/>
<rect x="75.6" y="305.0" width="1.8" height="11.0" fill="#f4f0f0"/>
<rect x="76.0" y="305.0" width="0.6" height="11.0" fill="#fff" opacity="0.4"/>
<defs><linearGradient id="pg3" gradientUnits="userSpaceOnUse" x1="53.1" y1="295.1" x2="76.4" y2="312.6"><stop offset="0.00" stop-color="#a86070"/><stop offset="0.20" stop-color="#a87484"/><stop offset="0.36" stop-color="#6e7cc4"/><stop offset="0.52" stop-color="#b4b4c4"/><stop offset="0.66" stop-color="#a8a4b8"/><stop offset="0.82" stop-color="#b47482"/><stop offset="1.00" stop-color="#c08890"/></linearGradient></defs>
<path d="M61.3 284.3L97.0 284.3L81.9 306.0L45.0 306.0Z" fill="url(#pg3)"/>
<defs><clipPath id="cp2"><path d="M61.3 284.3L97.0 284.3L81.9 306.0L45.0 306.0Z"/></clipPath></defs>
<defs><linearGradient id="pv4" x1="0" y1="0" x2="0" y2="1"><stop offset="0.00" stop-color="#ffffff" stop-opacity="0.15"/><stop offset="0.20" stop-color="#ffffff" stop-opacity="0.00"/><stop offset="1.00" stop-color="#ffffff" stop-opacity="0.00"/></linearGradient></defs>
<path d="M61.3 284.3L97.0 284.3L81.9 306.0L45.0 306.0Z" fill="url(#pv4)"/>
<path d="M45.0 305.7L81.9 305.7" stroke="#6070c8" stroke-width="0.8" opacity="0.7"/>
<rect x="63.2" y="282.0" width="1.8" height="10.0" fill="#f4f0f0"/>
<rect x="65.0" y="282.0" width="1.8" height="10.0" fill="#d42626"/>
<rect x="63.7" y="282.0" width="0.7" height="10.0" fill="#fff" opacity="0.3"/>
<ellipse cx="65.0" cy="282.2" rx="2.8" ry="2.6" fill="#d42626"/>
<ellipse cx="64.4" cy="281.1" rx="1.4" ry="1.1" fill="#fff" opacity="0.6"/>
<rect x="75.2" y="282.0" width="1.8" height="10.0" fill="#a8b0f0"/>
<rect x="77.0" y="282.0" width="1.8" height="10.0" fill="#f4f0f0"/>
<rect x="75.7" y="282.0" width="0.7" height="10.0" fill="#fff" opacity="0.3"/>
<ellipse cx="77.0" cy="282.2" rx="2.8" ry="2.6" fill="#2233d8"/>
<ellipse cx="76.4" cy="281.1" rx="1.4" ry="1.1" fill="#fff" opacity="0.6"/>
<rect x="60.6" y="291.0" width="2.7" height="7.0" fill="#a8b0f0"/>
<rect x="61.1" y="291.0" width="0.8" height="7.0" fill="#fff" opacity="0.35"/>
<ellipse cx="62.0" cy="291.0" rx="2.7" ry="2.5" fill="#f4f0f0"/>
<ellipse cx="61.3" cy="290.0" rx="1.3" ry="1.0" fill="#fff" opacity="0.5"/>
<rect x="79.6" y="290.0" width="2.7" height="6.0" fill="#d42626"/>
<rect x="80.1" y="290.0" width="0.8" height="6.0" fill="#fff" opacity="0.35"/>
<ellipse cx="81.0" cy="290.0" rx="2.7" ry="2.5" fill="#f4f0f0"/>
<ellipse cx="80.3" cy="289.0" rx="1.3" ry="1.0" fill="#fff" opacity="0.5"/>
<rect x="65.6" y="297.0" width="2.9" height="5.0" fill="#2233d8"/>
<rect x="66.1" y="297.0" width="0.8" height="5.0" fill="#fff" opacity="0.35"/>
<ellipse cx="67.0" cy="297.0" rx="2.8" ry="2.5" fill="#1020f0"/>
<ellipse cx="66.3" cy="296.0" rx="1.4" ry="1.0" fill="#fff" opacity="0.5"/>
<rect x="74.6" y="297.0" width="2.7" height="6.0" fill="#d42626"/>
<rect x="75.1" y="297.0" width="0.8" height="6.0" fill="#fff" opacity="0.35"/>
<ellipse cx="76.0" cy="297.0" rx="2.7" ry="2.5" fill="#d42626"/>
<ellipse cx="75.3" cy="296.0" rx="1.3" ry="1.0" fill="#fff" opacity="0.5"/>
<rect x="132.7" y="305.0" width="2.6" height="10.5" fill="#2233d8"/>
<rect x="133.1" y="305.0" width="0.9" height="10.5" fill="#fff" opacity="0.4"/>
<rect x="143.4" y="305.0" width="2.2" height="8.5" fill="#eaa4a8"/>
<rect x="143.8" y="305.0" width="0.8" height="8.5" fill="#fff" opacity="0.4"/>
<defs><linearGradient id="pg5" gradientUnits="userSpaceOnUse" x1="118.5" y1="294.4" x2="147.9" y2="310.8"><stop offset="0.00" stop-color="#b41c1c"/><stop offset="0.22" stop-color="#c83030"/><stop offset="0.40" stop-color="#dc8c8c"/><stop offset="0.50" stop-color="#f2eef0"/><stop offset="0.68" stop-color="#e6e4ec"/><stop offset="0.84" stop-color="#dcbcc0"/><stop offset="1.00" stop-color="#cc6c6c"/></linearGradient></defs>
<path d="M124.7 283.2L164.2 283.2L150.0 305.5L112.2 305.5Z" fill="url(#pg5)"/>
<defs><clipPath id="cp3"><path d="M124.7 283.2L164.2 283.2L150.0 305.5L112.2 305.5Z"/></clipPath></defs>
<defs><radialGradient id="rb6"><stop offset="0" stop-color="#1c2cd0" stop-opacity="1.00"/><stop offset="0.55" stop-color="#1c2cd0" stop-opacity="0.70"/><stop offset="1" stop-color="#1c2cd0" stop-opacity="0"/></radialGradient></defs>
<ellipse clip-path="url(#cp3)" cx="131.0" cy="306.0" rx="15.0" ry="6.5" fill="url(#rb6)"/>
<defs><radialGradient id="rb7"><stop offset="0" stop-color="#3848d0" stop-opacity="0.70"/><stop offset="0.55" stop-color="#3848d0" stop-opacity="0.49"/><stop offset="1" stop-color="#3848d0" stop-opacity="0"/></radialGradient></defs>
<ellipse clip-path="url(#cp3)" cx="145.0" cy="288.0" rx="6.0" ry="4.0" fill="url(#rb7)"/>
<defs><radialGradient id="rb8"><stop offset="0" stop-color="#c83030" stop-opacity="0.80"/><stop offset="0.55" stop-color="#c83030" stop-opacity="0.56"/><stop offset="1" stop-color="#c83030" stop-opacity="0"/></radialGradient></defs>
<ellipse clip-path="url(#cp3)" cx="160.0" cy="284.0" rx="6.0" ry="2.5" fill="url(#rb8)"/>
<rect x="131.1" y="282.0" width="3.1" height="8.0" fill="#eaa4a8"/>
<rect x="131.6" y="282.0" width="0.9" height="8.0" fill="#fff" opacity="0.35"/>
<ellipse cx="132.6" cy="282.0" rx="2.9" ry="2.5" fill="#eaa4a8"/>
<ellipse cx="131.9" cy="281.0" rx="1.5" ry="1.0" fill="#fff" opacity="0.5"/>
<rect x="126.4" y="286.5" width="3.2" height="7.5" fill="#d42626"/>
<rect x="126.9" y="286.5" width="0.9" height="7.5" fill="#fff" opacity="0.35"/>
<ellipse cx="128.0" cy="286.5" rx="3.0" ry="2.5" fill="#e01818"/>
<ellipse cx="127.3" cy="285.5" rx="1.6" ry="1.0" fill="#fff" opacity="0.5"/>
<rect x="140.9" y="285.5" width="3.2" height="5.5" fill="#2233d8"/>
<rect x="141.4" y="285.5" width="0.9" height="5.5" fill="#fff" opacity="0.35"/>
<ellipse cx="142.5" cy="285.5" rx="3.0" ry="2.5" fill="#1020f0"/>
<ellipse cx="141.8" cy="284.5" rx="1.6" ry="1.0" fill="#fff" opacity="0.5"/>
<rect x="147.5" y="287.5" width="3.1" height="4.5" fill="#d42626"/>
<rect x="148.0" y="287.5" width="0.9" height="4.5" fill="#fff" opacity="0.35"/>
<ellipse cx="149.0" cy="287.5" rx="2.9" ry="2.5" fill="#e01818"/>
<ellipse cx="148.3" cy="286.5" rx="1.5" ry="1.0" fill="#fff" opacity="0.5"/>
<rect x="132.5" y="296.0" width="3.1" height="7.0" fill="#2233d8"/>
<rect x="133.0" y="296.0" width="0.9" height="7.0" fill="#fff" opacity="0.35"/>
<ellipse cx="134.0" cy="296.0" rx="2.9" ry="2.5" fill="#1020f0"/>
<ellipse cx="133.3" cy="295.0" rx="1.5" ry="1.0" fill="#fff" opacity="0.5"/>
<rect x="143.1" y="294.0" width="2.9" height="6.0" fill="#eaa4a8"/>
<rect x="143.6" y="294.0" width="0.8" height="6.0" fill="#fff" opacity="0.35"/>
<ellipse cx="144.5" cy="294.0" rx="2.8" ry="2.5" fill="#f4f0f0"/>
<ellipse cx="143.8" cy="293.0" rx="1.4" ry="1.0" fill="#fff" opacity="0.5"/>
<rect x="171.5" y="300.0" width="2.6" height="8.0" fill="#2233d8"/>
<rect x="171.9" y="300.0" width="0.9" height="8.0" fill="#fff" opacity="0.4"/>
<rect x="177.4" y="300.0" width="2.6" height="13.4" fill="#a8b0f0"/>
<rect x="177.8" y="300.0" width="0.9" height="13.4" fill="#fff" opacity="0.4"/>
<rect x="186.6" y="300.0" width="2.6" height="13.0" fill="#d42626"/>
<rect x="187.0" y="300.0" width="0.9" height="13.0" fill="#fff" opacity="0.4"/>
<rect x="191.3" y="300.0" width="2.4" height="8.0" fill="#2233d8"/>
<rect x="191.7" y="300.0" width="0.8" height="8.0" fill="#fff" opacity="0.4"/>
<defs><linearGradient id="pg9" gradientUnits="userSpaceOnUse" x1="164.5" y1="293.8" x2="191.1" y2="311.1"><stop offset="0.00" stop-color="#d8c8d0"/><stop offset="0.50" stop-color="#e8e4ec"/><stop offset="1.00" stop-color="#d8c8d0"/></linearGradient></defs>
<path d="M171.5 283.0L210.0 282.2L197.0 302.0L157.5 304.5Z" fill="url(#pg9)"/>
<defs><clipPath id="cp4"><path d="M171.5 283.0L210.0 282.2L197.0 302.0L157.5 304.5Z"/></clipPath></defs>
<defs><radialGradient id="rb10"><stop offset="0" stop-color="#2838c8" stop-opacity="1.00"/><stop offset="0.55" stop-color="#2838c8" stop-opacity="0.70"/><stop offset="1" stop-color="#2838c8" stop-opacity="0"/></radialGradient></defs>
<ellipse clip-path="url(#cp4)" cx="175.0" cy="294.0" rx="15.0" ry="9.0" fill="url(#rb10)"/>
<defs><radialGradient id="rb11"><stop offset="0" stop-color="#d02828" stop-opacity="1.00"/><stop offset="0.55" stop-color="#d02828" stop-opacity="0.70"/><stop offset="1" stop-color="#d02828" stop-opacity="0"/></radialGradient></defs>
<ellipse clip-path="url(#cp4)" cx="178.0" cy="284.0" rx="10.0" ry="4.5" fill="url(#rb11)"/>
<defs><radialGradient id="rb12"><stop offset="0" stop-color="#d02828" stop-opacity="1.00"/><stop offset="0.55" stop-color="#d02828" stop-opacity="0.70"/><stop offset="1" stop-color="#d02828" stop-opacity="0"/></radialGradient></defs>
<ellipse clip-path="url(#cp4)" cx="160.0" cy="303.0" rx="9.0" ry="5.0" fill="url(#rb12)"/>
<defs><radialGradient id="rb13"><stop offset="0" stop-color="#c82828" stop-opacity="1.00"/><stop offset="0.55" stop-color="#c82828" stop-opacity="0.70"/><stop offset="1" stop-color="#c82828" stop-opacity="0"/></radialGradient></defs>
<ellipse clip-path="url(#cp4)" cx="195.0" cy="300.0" rx="11.0" ry="6.0" fill="url(#rb13)"/>
<defs><radialGradient id="rb14"><stop offset="0" stop-color="#3040c8" stop-opacity="1.00"/><stop offset="0.55" stop-color="#3040c8" stop-opacity="0.70"/><stop offset="1" stop-color="#3040c8" stop-opacity="0"/></radialGradient></defs>
<ellipse clip-path="url(#cp4)" cx="201.0" cy="289.0" rx="12.0" ry="6.5" fill="url(#rb14)"/>
<defs><radialGradient id="rb15"><stop offset="0" stop-color="#d03030" stop-opacity="0.95"/><stop offset="0.55" stop-color="#d03030" stop-opacity="0.66"/><stop offset="1" stop-color="#d03030" stop-opacity="0"/></radialGradient></defs>
<ellipse clip-path="url(#cp4)" cx="209.0" cy="283.0" rx="5.0" ry="3.0" fill="url(#rb15)"/>
<rect x="176.4" y="280.0" width="3.2" height="10.0" fill="#d42626"/>
<rect x="176.9" y="280.0" width="0.9" height="10.0" fill="#fff" opacity="0.35"/>
<ellipse cx="178.0" cy="280.0" rx="3.0" ry="2.5" fill="#e01818"/>
<ellipse cx="177.3" cy="279.0" rx="1.6" ry="1.0" fill="#fff" opacity="0.5"/>
<rect x="185.1" y="283.0" width="3.1" height="7.0" fill="#a8b0f0"/>
<rect x="185.6" y="283.0" width="0.9" height="7.0" fill="#fff" opacity="0.35"/>
<ellipse cx="186.6" cy="283.0" rx="2.9" ry="2.5" fill="#a8b0f0"/>
<ellipse cx="185.9" cy="282.0" rx="1.5" ry="1.0" fill="#fff" opacity="0.5"/>
<rect x="173.2" y="289.5" width="3.1" height="7.5" fill="#2233d8"/>
<rect x="173.7" y="289.5" width="0.9" height="7.5" fill="#fff" opacity="0.35"/>
<ellipse cx="174.7" cy="289.5" rx="2.9" ry="2.5" fill="#2233d8"/>
<ellipse cx="174.0" cy="288.5" rx="1.5" ry="1.0" fill="#fff" opacity="0.5"/>
<rect x="179.3" y="294.5" width="2.9" height="5.5" fill="#a8b0f0"/>
<rect x="179.8" y="294.5" width="0.8" height="5.5" fill="#fff" opacity="0.35"/>
<ellipse cx="180.7" cy="294.5" rx="2.8" ry="2.5" fill="#a8b0f0"/>
<ellipse cx="180.0" cy="293.5" rx="1.4" ry="1.0" fill="#fff" opacity="0.5"/>
<rect x="187.6" y="292.5" width="3.2" height="6.5" fill="#d42626"/>
<rect x="188.1" y="292.5" width="0.9" height="6.5" fill="#fff" opacity="0.35"/>
<ellipse cx="189.2" cy="292.5" rx="3.0" ry="2.5" fill="#e01818"/>
<ellipse cx="188.5" cy="291.5" rx="1.6" ry="1.0" fill="#fff" opacity="0.5"/>
<rect x="22.8" y="353.0" width="2.4" height="10.0" fill="#a8b0f0"/>
<rect x="23.2" y="353.0" width="0.8" height="10.0" fill="#fff" opacity="0.4"/>
<rect x="30.7" y="353.0" width="2.6" height="10.0" fill="#2233d8"/>
<rect x="31.1" y="353.0" width="0.9" height="10.0" fill="#fff" opacity="0.4"/>
<rect x="15.2" y="354.0" width="1.6" height="3.0" fill="#d42626"/>
<rect x="15.6" y="354.0" width="0.6" height="3.0" fill="#fff" opacity="0.4"/>
<defs><linearGradient id="pg16" gradientUnits="userSpaceOnUse" x1="9.6" y1="343.3" x2="34.5" y2="360.2"><stop offset="0.00" stop-color="#b8b8d0"/><stop offset="0.30" stop-color="#d8c8cc"/><stop offset="0.60" stop-color="#dcdce4"/><stop offset="1.00" stop-color="#b8b8cc"/></linearGradient></defs>
<path d="M16.9 332.6L53.2 332.6L38.7 354.0L2.4 354.0Z" fill="url(#pg16)"/>
<defs><clipPath id="cp5"><path d="M16.9 332.6L53.2 332.6L38.7 354.0L2.4 354.0Z"/></clipPath></defs>
<defs><radialGradient id="rb17"><stop offset="0" stop-color="#d03030" stop-opacity="0.80"/><stop offset="0.55" stop-color="#d03030" stop-opacity="0.56"/><stop offset="1" stop-color="#d03030" stop-opacity="0"/></radialGradient></defs>
<ellipse clip-path="url(#cp5)" cx="24.0" cy="338.0" rx="16.0" ry="8.0" fill="url(#rb17)"/>
<defs><radialGradient id="rb18"><stop offset="0" stop-color="#2a3ad0" stop-opacity="0.90"/><stop offset="0.55" stop-color="#2a3ad0" stop-opacity="0.63"/><stop offset="1" stop-color="#2a3ad0" stop-opacity="0"/></radialGradient></defs>
<ellipse clip-path="url(#cp5)" cx="34.0" cy="348.0" rx="15.0" ry="7.0" fill="url(#rb18)"/>
<defs><radialGradient id="rb19"><stop offset="0" stop-color="#5060d0" stop-opacity="0.50"/><stop offset="0.55" stop-color="#5060d0" stop-opacity="0.35"/><stop offset="1" stop-color="#5060d0" stop-opacity="0"/></radialGradient></defs>
<ellipse clip-path="url(#cp5)" cx="8.0" cy="352.0" rx="10.0" ry="3.0" fill="url(#rb19)"/>
<path d="M2.4 353.7L38.7 353.7" stroke="#d04040" stroke-width="0.8" opacity="0.7"/>
<rect x="20.3" y="328.0" width="3.4" height="10.0" fill="#d42626"/>
<rect x="20.8" y="328.0" width="1.0" height="10.0" fill="#fff" opacity="0.35"/>
<ellipse cx="22.0" cy="328.0" rx="3.1" ry="2.5" fill="#e01818"/>
<ellipse cx="21.3" cy="327.0" rx="1.7" ry="1.0" fill="#fff" opacity="0.5"/>
<rect x="30.4" y="330.0" width="3.2" height="7.0" fill="#eaa4a8"/>
<rect x="30.9" y="330.0" width="0.9" height="7.0" fill="#fff" opacity="0.35"/>
<ellipse cx="32.0" cy="330.0" rx="3.0" ry="2.5" fill="#eaa4a8"/>
<ellipse cx="31.3" cy="329.0" rx="1.6" ry="1.0" fill="#fff" opacity="0.5"/>
<rect x="16.5" y="335.0" width="3.1" height="8.0" fill="#eaa4a8"/>
<rect x="17.0" y="335.0" width="0.9" height="8.0" fill="#fff" opacity="0.35"/>
<ellipse cx="18.0" cy="335.0" rx="2.9" ry="2.5" fill="#d42626"/>
<ellipse cx="17.3" cy="334.0" rx="1.5" ry="1.0" fill="#fff" opacity="0.5"/>
<rect x="34.5" y="338.0" width="3.1" height="8.0" fill="#2233d8"/>
<rect x="35.0" y="338.0" width="0.9" height="8.0" fill="#fff" opacity="0.35"/>
<ellipse cx="36.0" cy="338.0" rx="2.9" ry="2.5" fill="#a8b0f0"/>
<ellipse cx="35.3" cy="337.0" rx="1.5" ry="1.0" fill="#fff" opacity="0.5"/>
<rect x="21.5" y="343.0" width="3.1" height="7.0" fill="#a8b0f0"/>
<rect x="22.0" y="343.0" width="0.9" height="7.0" fill="#fff" opacity="0.35"/>
<ellipse cx="23.0" cy="343.0" rx="2.9" ry="2.5" fill="#a8b0f0"/>
<ellipse cx="22.3" cy="342.0" rx="1.5" ry="1.0" fill="#fff" opacity="0.5"/>
<rect x="30.4" y="344.0" width="3.2" height="7.0" fill="#1020f0"/>
<rect x="30.9" y="344.0" width="0.9" height="7.0" fill="#fff" opacity="0.35"/>
<ellipse cx="32.0" cy="344.0" rx="3.0" ry="2.5" fill="#1020f0"/>
<ellipse cx="31.3" cy="343.0" rx="1.6" ry="1.0" fill="#fff" opacity="0.5"/>
<rect x="59.7" y="353.0" width="2.6" height="7.0" fill="#2233d8"/>
<rect x="60.1" y="353.0" width="0.9" height="7.0" fill="#fff" opacity="0.4"/>
<rect x="64.7" y="353.0" width="2.6" height="9.0" fill="#1020f0"/>
<rect x="65.1" y="353.0" width="0.9" height="9.0" fill="#fff" opacity="0.4"/>
<rect x="74.9" y="353.0" width="2.2" height="9.0" fill="#f4f0f0"/>
<rect x="75.3" y="353.0" width="0.8" height="9.0" fill="#fff" opacity="0.4"/>
<defs><linearGradient id="pg20" gradientUnits="userSpaceOnUse" x1="52.5" y1="343.1" x2="77.2" y2="360.8"><stop offset="0.00" stop-color="#b0b0c8"/><stop offset="0.40" stop-color="#c8c4cc"/><stop offset="0.70" stop-color="#d0c8cc"/><stop offset="1.00" stop-color="#b8b0c8"/></linearGradient></defs>
<path d="M60.1 332.6L96.4 332.6L83.1 353.7L45.0 353.7Z" fill="url(#pg20)"/>
<defs><clipPath id="cp6"><path d="M60.1 332.6L96.4 332.6L83.1 353.7L45.0 353.7Z"/></clipPath></defs>
<defs><radialGradient id="rb21"><stop offset="0" stop-color="#2a3ad0" stop-opacity="0.90"/><stop offset="0.55" stop-color="#2a3ad0" stop-opacity="0.63"/><stop offset="1" stop-color="#2a3ad0" stop-opacity="0"/></radialGradient></defs>
<ellipse clip-path="url(#cp6)" cx="64.0" cy="344.0" rx="14.0" ry="9.0" fill="url(#rb21)"/>
<defs><radialGradient id="rb22"><stop offset="0" stop-color="#d02a2a" stop-opacity="0.85"/><stop offset="0.55" stop-color="#d02a2a" stop-opacity="0.59"/><stop offset="1" stop-color="#d02a2a" stop-opacity="0"/></radialGradient></defs>
<ellipse clip-path="url(#cp6)" cx="80.0" cy="338.0" rx="13.0" ry="7.0" fill="url(#rb22)"/>
<path d="M45.0 353.4L83.1 353.4" stroke="#c04050" stroke-width="0.8" opacity="0.7"/>
<rect x="64.5" y="330.0" width="3.1" height="7.0" fill="#eaa4a8"/>
<rect x="65.0" y="330.0" width="0.9" height="7.0" fill="#fff" opacity="0.35"/>
<ellipse cx="66.0" cy="330.0" rx="2.9" ry="2.5" fill="#f4f0f0"/>
<ellipse cx="65.3" cy="329.0" rx="1.5" ry="1.0" fill="#fff" opacity="0.5"/>
<rect x="74.3" y="328.0" width="3.4" height="8.0" fill="#d42626"/>
<rect x="74.8" y="328.0" width="1.0" height="8.0" fill="#fff" opacity="0.35"/>
<ellipse cx="76.0" cy="328.0" rx="3.1" ry="2.5" fill="#e01818"/>
<ellipse cx="75.3" cy="327.0" rx="1.7" ry="1.0" fill="#fff" opacity="0.5"/>
<rect x="79.4" y="335.0" width="3.2" height="7.0" fill="#d42626"/>
<rect x="79.9" y="335.0" width="0.9" height="7.0" fill="#fff" opacity="0.35"/>
<ellipse cx="81.0" cy="335.0" rx="3.0" ry="2.5" fill="#e01818"/>
<ellipse cx="80.3" cy="334.0" rx="1.6" ry="1.0" fill="#fff" opacity="0.5"/>
<rect x="60.4" y="338.0" width="3.2" height="8.0" fill="#1020f0"/>
<rect x="60.9" y="338.0" width="0.9" height="8.0" fill="#fff" opacity="0.35"/>
<ellipse cx="62.0" cy="338.0" rx="3.0" ry="2.5" fill="#1020f0"/>
<ellipse cx="61.3" cy="337.0" rx="1.6" ry="1.0" fill="#fff" opacity="0.5"/>
<rect x="65.4" y="343.0" width="3.2" height="7.0" fill="#1020f0"/>
<rect x="65.9" y="343.0" width="0.9" height="7.0" fill="#fff" opacity="0.35"/>
<ellipse cx="67.0" cy="343.0" rx="3.0" ry="2.5" fill="#1020f0"/>
<ellipse cx="66.3" cy="342.0" rx="1.6" ry="1.0" fill="#fff" opacity="0.5"/>
<rect x="74.6" y="342.0" width="2.9" height="8.0" fill="#f4f0f0"/>
<rect x="75.1" y="342.0" width="0.8" height="8.0" fill="#fff" opacity="0.35"/>
<ellipse cx="76.0" cy="342.0" rx="2.8" ry="2.5" fill="#a8b0f0"/>
<ellipse cx="75.3" cy="341.0" rx="1.4" ry="1.0" fill="#fff" opacity="0.5"/>
<rect x="125.2" y="354.0" width="1.6" height="3.0" fill="#2233d8"/>
<rect x="125.6" y="354.0" width="0.6" height="3.0" fill="#fff" opacity="0.4"/>
<rect x="133.9" y="354.0" width="2.2" height="9.0" fill="#f4f0f0"/>
<rect x="134.3" y="354.0" width="0.8" height="9.0" fill="#fff" opacity="0.4"/>
<rect x="141.9" y="354.0" width="2.2" height="9.0" fill="#eaa4a8"/>
<rect x="142.3" y="354.0" width="0.8" height="9.0" fill="#fff" opacity="0.4"/>
<defs><linearGradient id="pg23" gradientUnits="userSpaceOnUse" x1="120.2" y1="343.0" x2="143.8" y2="360.3"><stop offset="0.00" stop-color="#9ca0c4"/><stop offset="0.30" stop-color="#a8a8bc"/><stop offset="0.55" stop-color="#b4b0b8"/><stop offset="0.80" stop-color="#bca8ac"/><stop offset="1.00" stop-color="#b0a8b4"/></linearGradient></defs>
<path d="M128.1 332.3L164.4 332.3L148.7 353.7L112.4 353.7Z" fill="url(#pg23)"/>
<defs><clipPath id="cp7"><path d="M128.1 332.3L164.4 332.3L148.7 353.7L112.4 353.7Z"/></clipPath></defs>
<defs><radialGradient id="rb24"><stop offset="0" stop-color="#d04040" stop-opacity="0.45"/><stop offset="0.55" stop-color="#d04040" stop-opacity="0.32"/><stop offset="1" stop-color="#d04040" stop-opacity="0"/></radialGradient></defs>
<ellipse clip-path="url(#cp7)" cx="146.0" cy="343.0" rx="10.0" ry="6.0" fill="url(#rb24)"/>
<defs><radialGradient id="rb25"><stop offset="0" stop-color="#4050c8" stop-opacity="0.40"/><stop offset="0.55" stop-color="#4050c8" stop-opacity="0.28"/><stop offset="1" stop-color="#4050c8" stop-opacity="0"/></radialGradient></defs>
<ellipse clip-path="url(#cp7)" cx="124.0" cy="340.0" rx="8.0" ry="6.0" fill="url(#rb25)"/>
<path d="M112.4 353.4L148.7 353.4" stroke="#8088c0" stroke-width="0.8" opacity="0.7"/>
<rect x="131.2" y="328.0" width="1.8" height="8.0" fill="#a8b0f0"/>
<rect x="133.0" y="328.0" width="1.8" height="8.0" fill="#f4f0f0"/>
<rect x="131.7" y="328.0" width="0.7" height="8.0" fill="#fff" opacity="0.3"/>
<ellipse cx="133.0" cy="328.2" rx="2.8" ry="2.6" fill="#a8b0f0"/>
<ellipse cx="132.4" cy="327.1" rx="1.4" ry="1.1" fill="#fff" opacity="0.6"/>
<rect x="143.1" y="331.0" width="1.9" height="7.0" fill="#d42626"/>
<rect x="145.0" y="331.0" width="1.9" height="7.0" fill="#f4f0f0"/>
<rect x="143.6" y="331.0" width="0.8" height="7.0" fill="#fff" opacity="0.3"/>
<ellipse cx="145.0" cy="331.2" rx="2.9" ry="2.6" fill="#f4f0f0"/>
<ellipse cx="144.4" cy="330.1" rx="1.5" ry="1.1" fill="#fff" opacity="0.6"/>
<rect x="126.1" y="338.0" width="1.9" height="6.0" fill="#2233d8"/>
<rect x="128.0" y="338.0" width="1.9" height="6.0" fill="#1020f0"/>
<rect x="126.6" y="338.0" width="0.8" height="6.0" fill="#fff" opacity="0.3"/>
<ellipse cx="128.0" cy="338.2" rx="2.9" ry="2.6" fill="#1020f0"/>
<ellipse cx="127.4" cy="337.1" rx="1.5" ry="1.1" fill="#fff" opacity="0.6"/>
<rect x="135.2" y="343.0" width="1.8" height="7.0" fill="#f4f0f0"/>
<rect x="137.0" y="343.0" width="1.8" height="7.0" fill="#d42626"/>
<rect x="135.7" y="343.0" width="0.7" height="7.0" fill="#fff" opacity="0.3"/>
<ellipse cx="137.0" cy="343.2" rx="2.8" ry="2.6" fill="#f4f0f0"/>
<ellipse cx="136.4" cy="342.1" rx="1.4" ry="1.1" fill="#fff" opacity="0.6"/>
<rect x="143.0" y="340.0" width="2.0" height="10.0" fill="#e01818"/>
<rect x="145.0" y="340.0" width="2.0" height="10.0" fill="#d42626"/>
<rect x="143.5" y="340.0" width="0.8" height="10.0" fill="#fff" opacity="0.3"/>
<ellipse cx="145.0" cy="340.2" rx="3.0" ry="2.6" fill="#e01818"/>
<ellipse cx="144.4" cy="339.1" rx="1.6" ry="1.1" fill="#fff" opacity="0.6"/>
<rect x="176.8" y="354.0" width="2.4" height="10.0" fill="#a8b0f0"/>
<rect x="177.2" y="354.0" width="0.8" height="10.0" fill="#fff" opacity="0.4"/>
<rect x="188.9" y="354.0" width="2.2" height="8.0" fill="#f4f0f0"/>
<rect x="189.3" y="354.0" width="0.8" height="8.0" fill="#fff" opacity="0.4"/>
<defs><linearGradient id="pg26" gradientUnits="userSpaceOnUse" x1="165.6" y1="343.1" x2="189.5" y2="360.3"><stop offset="0.00" stop-color="#a0a4c4"/><stop offset="0.30" stop-color="#acacc0"/><stop offset="0.60" stop-color="#b4b4bc"/><stop offset="1.00" stop-color="#b0b0bc"/></linearGradient></defs>
<path d="M173.2 332.6L209.4 332.6L194.3 353.7L158.0 353.7Z" fill="url(#pg26)"/>
<defs><clipPath id="cp8"><path d="M173.2 332.6L209.4 332.6L194.3 353.7L158.0 353.7Z"/></clipPath></defs>
<defs><radialGradient id="rb27"><stop offset="0" stop-color="#5060c8" stop-opacity="0.35"/><stop offset="0.55" stop-color="#5060c8" stop-opacity="0.24"/><stop offset="1" stop-color="#5060c8" stop-opacity="0"/></radialGradient></defs>
<ellipse clip-path="url(#cp8)" cx="172.0" cy="348.0" rx="12.0" ry="6.0" fill="url(#rb27)"/>
<defs><radialGradient id="rb28"><stop offset="0" stop-color="#d08080" stop-opacity="0.35"/><stop offset="0.55" stop-color="#d08080" stop-opacity="0.24"/><stop offset="1" stop-color="#d08080" stop-opacity="0"/></radialGradient></defs>
<ellipse clip-path="url(#cp8)" cx="185.0" cy="338.0" rx="10.0" ry="5.0" fill="url(#rb28)"/>
<rect x="170.2" y="335.0" width="1.8" height="7.0" fill="#a8b0f0"/>
<rect x="172.0" y="335.0" width="1.8" height="7.0" fill="#f4f0f0"/>
<rect x="170.7" y="335.0" width="0.7" height="7.0" fill="#fff" opacity="0.3"/>
<ellipse cx="172.0" cy="335.2" rx="2.8" ry="2.6" fill="#f4f0f0"/>
<ellipse cx="171.4" cy="334.1" rx="1.4" ry="1.1" fill="#fff" opacity="0.6"/>
<rect x="179.1" y="329.0" width="1.9" height="7.0" fill="#f4f0f0"/>
<rect x="181.0" y="329.0" width="1.9" height="7.0" fill="#d42626"/>
<rect x="179.6" y="329.0" width="0.8" height="7.0" fill="#fff" opacity="0.3"/>
<ellipse cx="181.0" cy="329.2" rx="2.9" ry="2.6" fill="#d42626"/>
<ellipse cx="180.4" cy="328.1" rx="1.5" ry="1.1" fill="#fff" opacity="0.6"/>
<rect x="186.1" y="331.0" width="1.9" height="7.0" fill="#d42626"/>
<rect x="188.0" y="331.0" width="1.9" height="7.0" fill="#f4f0f0"/>
<rect x="186.6" y="331.0" width="0.8" height="7.0" fill="#fff" opacity="0.3"/>
<ellipse cx="188.0" cy="331.2" rx="2.9" ry="2.6" fill="#e01818"/>
<ellipse cx="187.4" cy="330.1" rx="1.5" ry="1.1" fill="#fff" opacity="0.6"/>
<rect x="191.1" y="336.0" width="1.9" height="6.0" fill="#f4f0f0"/>
<rect x="193.0" y="336.0" width="1.9" height="6.0" fill="#d42626"/>
<rect x="191.6" y="336.0" width="0.8" height="6.0" fill="#fff" opacity="0.3"/>
<ellipse cx="193.0" cy="336.2" rx="2.9" ry="2.6" fill="#e01818"/>
<ellipse cx="192.4" cy="335.1" rx="1.5" ry="1.1" fill="#fff" opacity="0.6"/>
<rect x="188.3" y="343.0" width="1.7" height="5.0" fill="#f4f0f0"/>
<rect x="190.0" y="343.0" width="1.7" height="5.0" fill="#a8b0f0"/>
<rect x="188.8" y="343.0" width="0.7" height="5.0" fill="#fff" opacity="0.3"/>
<ellipse cx="190.0" cy="343.2" rx="2.7" ry="2.6" fill="#a8b0f0"/>
<ellipse cx="189.4" cy="342.1" rx="1.3" ry="1.1" fill="#fff" opacity="0.6"/>
<rect x="176.0" y="344.0" width="2.0" height="6.0" fill="#1020f0"/>
<rect x="178.0" y="344.0" width="2.0" height="6.0" fill="#2233d8"/>
<rect x="176.5" y="344.0" width="0.8" height="6.0" fill="#fff" opacity="0.3"/>
<ellipse cx="178.0" cy="344.2" rx="3.0" ry="2.6" fill="#1020f0"/>
<ellipse cx="177.4" cy="343.1" rx="1.6" ry="1.1" fill="#fff" opacity="0.6"/>
<rect x="412.7" y="306.0" width="2.6" height="12.0" fill="#d42626"/>
<rect x="413.1" y="306.0" width="0.9" height="12.0" fill="#fff" opacity="0.4"/>
<rect x="426.8" y="306.0" width="2.4" height="10.0" fill="#2233d8"/>
<rect x="427.2" y="306.0" width="0.8" height="10.0" fill="#fff" opacity="0.4"/>
<defs><linearGradient id="pg29" gradientUnits="userSpaceOnUse" x1="402.2" y1="296.0" x2="430.1" y2="313.8"><stop offset="0.00" stop-color="#9ca0c4"/><stop offset="0.20" stop-color="#b49098"/><stop offset="0.38" stop-color="#c08488"/><stop offset="0.55" stop-color="#aca8bc"/><stop offset="0.72" stop-color="#8890c8"/><stop offset="0.88" stop-color="#a0a4c4"/><stop offset="1.00" stop-color="#b0b0c4"/></linearGradient></defs>
<path d="M409.1 285.2L446.2 285.2L436.7 306.9L395.3 306.9Z" fill="url(#pg29)"/>
<defs><clipPath id="cp9"><path d="M409.1 285.2L446.2 285.2L436.7 306.9L395.3 306.9Z"/></clipPath></defs>
<rect x="412.5" y="279.0" width="3.1" height="9.0" fill="#d42626"/>
<rect x="413.0" y="279.0" width="0.9" height="9.0" fill="#fff" opacity="0.35"/>
<ellipse cx="414.0" cy="279.0" rx="2.9" ry="2.5" fill="#d42626"/>
<ellipse cx="413.3" cy="278.0" rx="1.5" ry="1.0" fill="#fff" opacity="0.5"/>
<rect x="404.4" y="289.0" width="3.2" height="7.0" fill="#d42626"/>
<rect x="404.9" y="289.0" width="0.9" height="7.0" fill="#fff" opacity="0.35"/>
<ellipse cx="406.0" cy="289.0" rx="3.0" ry="2.5" fill="#e01818"/>
<ellipse cx="405.3" cy="288.0" rx="1.6" ry="1.0" fill="#fff" opacity="0.5"/>
<rect x="413.6" y="297.0" width="2.9" height="7.0" fill="#f4f0f0"/>
<rect x="414.1" y="297.0" width="0.8" height="7.0" fill="#fff" opacity="0.35"/>
<ellipse cx="415.0" cy="297.0" rx="2.8" ry="2.5" fill="#d42626"/>
<ellipse cx="414.3" cy="296.0" rx="1.4" ry="1.0" fill="#fff" opacity="0.5"/>
<rect x="425.5" y="282.0" width="3.1" height="8.0" fill="#2233d8"/>
<rect x="426.0" y="282.0" width="0.9" height="8.0" fill="#fff" opacity="0.35"/>
<ellipse cx="427.0" cy="282.0" rx="2.9" ry="2.5" fill="#2233d8"/>
<ellipse cx="426.3" cy="281.0" rx="1.5" ry="1.0" fill="#fff" opacity="0.5"/>
<rect x="429.5" y="290.0" width="3.1" height="6.0" fill="#2233d8"/>
<rect x="430.0" y="290.0" width="0.9" height="6.0" fill="#fff" opacity="0.35"/>
<ellipse cx="431.0" cy="290.0" rx="2.9" ry="2.5" fill="#a8b0f0"/>
<ellipse cx="430.3" cy="289.0" rx="1.5" ry="1.0" fill="#fff" opacity="0.5"/>
<rect x="427.6" y="297.0" width="2.9" height="7.0" fill="#f4f0f0"/>
<rect x="428.1" y="297.0" width="0.8" height="7.0" fill="#fff" opacity="0.35"/>
<ellipse cx="429.0" cy="297.0" rx="2.8" ry="2.5" fill="#d42626"/>
<ellipse cx="428.3" cy="296.0" rx="1.4" ry="1.0" fill="#fff" opacity="0.5"/>
<rect x="455.7" y="306.0" width="2.6" height="12.0" fill="#d42626"/>
<rect x="456.1" y="306.0" width="0.9" height="12.0" fill="#fff" opacity="0.4"/>
<rect x="472.7" y="306.0" width="2.6" height="12.0" fill="#d42626"/>
<rect x="473.1" y="306.0" width="0.9" height="12.0" fill="#fff" opacity="0.4"/>
<defs><linearGradient id="pg30" gradientUnits="userSpaceOnUse" x1="445.6" y1="295.4" x2="473.8" y2="312.7"><stop offset="0.00" stop-color="#b0b0c0"/><stop offset="0.20" stop-color="#b8b0bc"/><stop offset="0.50" stop-color="#c8c0c8"/><stop offset="0.80" stop-color="#b8b0bc"/><stop offset="1.00" stop-color="#b8a8b4"/></linearGradient></defs>
<path d="M451.8 285.2L490.6 285.2L478.1 305.6L439.3 305.6Z" fill="url(#pg30)"/>
<defs><clipPath id="cp10"><path d="M451.8 285.2L490.6 285.2L478.1 305.6L439.3 305.6Z"/></clipPath></defs>
<defs><radialGradient id="rb31"><stop offset="0" stop-color="#3040c8" stop-opacity="0.85"/><stop offset="0.55" stop-color="#3040c8" stop-opacity="0.59"/><stop offset="1" stop-color="#3040c8" stop-opacity="0"/></radialGradient></defs>
<ellipse clip-path="url(#cp10)" cx="465.0" cy="289.0" rx="18.0" ry="5.0" fill="url(#rb31)"/>
<defs><radialGradient id="rb32"><stop offset="0" stop-color="#c83838" stop-opacity="0.85"/><stop offset="0.55" stop-color="#c83838" stop-opacity="0.59"/><stop offset="1" stop-color="#c83838" stop-opacity="0"/></radialGradient></defs>
<ellipse clip-path="url(#cp10)" cx="463.0" cy="302.0" rx="18.0" ry="5.0" fill="url(#rb32)"/>
<rect x="457.5" y="280.0" width="3.1" height="8.0" fill="#2233d8"/>
<rect x="458.0" y="280.0" width="0.9" height="8.0" fill="#fff" opacity="0.35"/>
<ellipse cx="459.0" cy="280.0" rx="2.9" ry="2.5" fill="#f4f0f0"/>
<ellipse cx="458.3" cy="279.0" rx="1.5" ry="1.0" fill="#fff" opacity="0.5"/>
<rect x="468.5" y="280.0" width="3.1" height="8.0" fill="#2233d8"/>
<rect x="469.0" y="280.0" width="0.9" height="8.0" fill="#fff" opacity="0.35"/>
<ellipse cx="470.0" cy="280.0" rx="2.9" ry="2.5" fill="#f4f0f0"/>
<ellipse cx="469.3" cy="279.0" rx="1.5" ry="1.0" fill="#fff" opacity="0.5"/>
<rect x="449.6" y="286.0" width="2.9" height="7.0" fill="#f4f0f0"/>
<rect x="450.1" y="286.0" width="0.8" height="7.0" fill="#fff" opacity="0.35"/>
<ellipse cx="451.0" cy="286.0" rx="2.8" ry="2.5" fill="#d42626"/>
<ellipse cx="450.3" cy="285.0" rx="1.4" ry="1.0" fill="#fff" opacity="0.5"/>
<rect x="476.6" y="286.0" width="2.9" height="7.0" fill="#f4f0f0"/>
<rect x="477.1" y="286.0" width="0.8" height="7.0" fill="#fff" opacity="0.35"/>
<ellipse cx="478.0" cy="286.0" rx="2.8" ry="2.5" fill="#d42626"/>
<ellipse cx="477.3" cy="285.0" rx="1.4" ry="1.0" fill="#fff" opacity="0.5"/>
<rect x="456.4" y="296.0" width="3.2" height="7.0" fill="#d42626"/>
<rect x="456.9" y="296.0" width="0.9" height="7.0" fill="#fff" opacity="0.35"/>
<ellipse cx="458.0" cy="296.0" rx="3.0" ry="2.5" fill="#e01818"/>
<ellipse cx="457.3" cy="295.0" rx="1.6" ry="1.0" fill="#fff" opacity="0.5"/>
<rect x="471.4" y="296.0" width="3.2" height="7.0" fill="#d42626"/>
<rect x="471.9" y="296.0" width="0.9" height="7.0" fill="#fff" opacity="0.35"/>
<ellipse cx="473.0" cy="296.0" rx="3.0" ry="2.5" fill="#e01818"/>
<ellipse cx="472.3" cy="295.0" rx="1.6" ry="1.0" fill="#fff" opacity="0.5"/>
<rect x="519.7" y="306.0" width="2.6" height="12.0" fill="#eaa4a8"/>
<rect x="520.1" y="306.0" width="0.9" height="12.0" fill="#fff" opacity="0.4"/>
<rect x="533.6" y="306.0" width="2.8" height="12.0" fill="#2233d8"/>
<rect x="534.0" y="306.0" width="1.0" height="12.0" fill="#fff" opacity="0.4"/>
<rect x="538.9" y="305.0" width="2.2" height="7.0" fill="#2233d8"/>
<rect x="539.3" y="305.0" width="0.8" height="7.0" fill="#fff" opacity="0.4"/>
<defs><linearGradient id="pg33" gradientUnits="userSpaceOnUse" x1="507.9" y1="295.4" x2="540.4" y2="310.1"><stop offset="0.00" stop-color="#b86060"/><stop offset="0.15" stop-color="#c84040"/><stop offset="0.35" stop-color="#c86868"/><stop offset="0.48" stop-color="#c8c4cc"/><stop offset="0.60" stop-color="#6070c8"/><stop offset="0.78" stop-color="#4858c8"/><stop offset="0.90" stop-color="#a0a0c0"/><stop offset="1.00" stop-color="#c07070"/></linearGradient></defs>
<path d="M512.5 285.2L553.0 285.2L541.0 305.6L503.3 305.6Z" fill="url(#pg33)"/>
<defs><clipPath id="cp11"><path d="M512.5 285.2L553.0 285.2L541.0 305.6L503.3 305.6Z"/></clipPath></defs>
<rect x="519.4" y="279.0" width="3.2" height="8.0" fill="#d42626"/>
<rect x="519.9" y="279.0" width="0.9" height="8.0" fill="#fff" opacity="0.35"/>
<ellipse cx="521.0" cy="279.0" rx="3.0" ry="2.5" fill="#e01818"/>
<ellipse cx="520.3" cy="278.0" rx="1.6" ry="1.0" fill="#fff" opacity="0.5"/>
<rect x="514.4" y="285.0" width="3.2" height="8.0" fill="#d42626"/>
<rect x="514.9" y="285.0" width="0.9" height="8.0" fill="#fff" opacity="0.35"/>
<ellipse cx="516.0" cy="285.0" rx="3.0" ry="2.5" fill="#e01818"/>
<ellipse cx="515.3" cy="284.0" rx="1.6" ry="1.0" fill="#fff" opacity="0.5"/>
<rect x="519.6" y="296.0" width="2.9" height="8.0" fill="#f4f0f0"/>
<rect x="520.1" y="296.0" width="0.8" height="8.0" fill="#fff" opacity="0.35"/>
<ellipse cx="521.0" cy="296.0" rx="2.8" ry="2.5" fill="#eaa4a8"/>
<ellipse cx="520.3" cy="295.0" rx="1.4" ry="1.0" fill="#fff" opacity="0.5"/>
<rect x="531.6" y="280.0" width="2.9" height="8.0" fill="#f4f0f0"/>
<rect x="532.1" y="280.0" width="0.8" height="8.0" fill="#fff" opacity="0.35"/>
<ellipse cx="533.0" cy="280.0" rx="2.8" ry="2.5" fill="#a8b0f0"/>
<ellipse cx="532.3" cy="279.0" rx="1.4" ry="1.0" fill="#fff" opacity="0.5"/>
<rect x="541.4" y="290.0" width="3.2" height="7.0" fill="#2233d8"/>
<rect x="541.9" y="290.0" width="0.9" height="7.0" fill="#fff" opacity="0.35"/>
<ellipse cx="543.0" cy="290.0" rx="3.0" ry="2.5" fill="#1020f0"/>
<ellipse cx="542.3" cy="289.0" rx="1.6" ry="1.0" fill="#fff" opacity="0.5"/>
<rect x="534.4" y="297.0" width="3.2" height="8.0" fill="#2233d8"/>
<rect x="534.9" y="297.0" width="0.9" height="8.0" fill="#fff" opacity="0.35"/>
<ellipse cx="536.0" cy="297.0" rx="3.0" ry="2.5" fill="#1020f0"/>
<ellipse cx="535.3" cy="296.0" rx="1.6" ry="1.0" fill="#fff" opacity="0.5"/>
<rect x="567.6" y="304.0" width="2.8" height="11.0" fill="#e01818"/>
<rect x="568.0" y="304.0" width="1.0" height="11.0" fill="#fff" opacity="0.4"/>
<rect x="579.6" y="304.0" width="2.8" height="11.0" fill="#e01818"/>
<rect x="580.0" y="304.0" width="1.0" height="11.0" fill="#fff" opacity="0.4"/>
<defs><linearGradient id="pg34" gradientUnits="userSpaceOnUse" x1="555.8" y1="294.4" x2="583.7" y2="311.0"><stop offset="0.00" stop-color="#a8a8c8"/><stop offset="0.20" stop-color="#c0b8c4"/><stop offset="0.50" stop-color="#d0c8cc"/><stop offset="0.80" stop-color="#c0a8b0"/><stop offset="1.00" stop-color="#c89098"/></linearGradient></defs>
<path d="M561.7 284.5L599.9 284.5L587.4 304.2L549.9 304.2Z" fill="url(#pg34)"/>
<defs><clipPath id="cp12"><path d="M561.7 284.5L599.9 284.5L587.4 304.2L549.9 304.2Z"/></clipPath></defs>
<defs><radialGradient id="rb35"><stop offset="0" stop-color="#2030d8" stop-opacity="0.95"/><stop offset="0.55" stop-color="#2030d8" stop-opacity="0.66"/><stop offset="1" stop-color="#2030d8" stop-opacity="0"/></radialGradient></defs>
<ellipse clip-path="url(#cp12)" cx="574.0" cy="288.0" rx="16.0" ry="4.5" fill="url(#rb35)"/>
<defs><radialGradient id="rb36"><stop offset="0" stop-color="#d02828" stop-opacity="0.95"/><stop offset="0.55" stop-color="#d02828" stop-opacity="0.66"/><stop offset="1" stop-color="#d02828" stop-opacity="0"/></radialGradient></defs>
<ellipse clip-path="url(#cp12)" cx="573.0" cy="300.0" rx="18.0" ry="4.5" fill="url(#rb36)"/>
<defs><radialGradient id="rb37"><stop offset="0" stop-color="#3040d0" stop-opacity="0.60"/><stop offset="0.55" stop-color="#3040d0" stop-opacity="0.42"/><stop offset="1" stop-color="#3040d0" stop-opacity="0"/></radialGradient></defs>
<ellipse clip-path="url(#cp12)" cx="553.0" cy="303.0" rx="6.0" ry="2.0" fill="url(#rb37)"/>
<rect x="565.4" y="281.0" width="3.2" height="9.0" fill="#2233d8"/>
<rect x="565.9" y="281.0" width="0.9" height="9.0" fill="#fff" opacity="0.35"/>
<ellipse cx="567.0" cy="281.0" rx="3.0" ry="2.5" fill="#1020f0"/>
<ellipse cx="566.3" cy="280.0" rx="1.6" ry="1.0" fill="#fff" opacity="0.5"/>
<rect x="580.4" y="281.0" width="3.2" height="9.0" fill="#2233d8"/>
<rect x="580.9" y="281.0" width="0.9" height="9.0" fill="#fff" opacity="0.35"/>
<ellipse cx="582.0" cy="281.0" rx="3.0" ry="2.5" fill="#1020f0"/>
<ellipse cx="581.3" cy="280.0" rx="1.6" ry="1.0" fill="#fff" opacity="0.5"/>
<rect x="559.6" y="289.0" width="2.9" height="6.0" fill="#f4f0f0"/>
<rect x="560.1" y="289.0" width="0.8" height="6.0" fill="#fff" opacity="0.35"/>
<ellipse cx="561.0" cy="289.0" rx="2.8" ry="2.5" fill="#a8b0f0"/>
<ellipse cx="560.3" cy="288.0" rx="1.4" ry="1.0" fill="#fff" opacity="0.5"/>
<rect x="587.6" y="291.0" width="2.9" height="6.0" fill="#f4f0f0"/>
<rect x="588.1" y="291.0" width="0.8" height="6.0" fill="#fff" opacity="0.35"/>
<ellipse cx="589.0" cy="291.0" rx="2.8" ry="2.5" fill="#a8b0f0"/>
<ellipse cx="588.3" cy="290.0" rx="1.4" ry="1.0" fill="#fff" opacity="0.5"/>
<rect x="567.4" y="294.0" width="3.2" height="8.0" fill="#d42626"/>
<rect x="567.9" y="294.0" width="0.9" height="8.0" fill="#fff" opacity="0.35"/>
<ellipse cx="569.0" cy="294.0" rx="3.0" ry="2.5" fill="#e01818"/>
<ellipse cx="568.3" cy="293.0" rx="1.6" ry="1.0" fill="#fff" opacity="0.5"/>
<rect x="579.4" y="294.0" width="3.2" height="8.0" fill="#d42626"/>
<rect x="579.9" y="294.0" width="0.9" height="8.0" fill="#fff" opacity="0.35"/>
<ellipse cx="581.0" cy="294.0" rx="3.0" ry="2.5" fill="#e01818"/>
<ellipse cx="580.3" cy="293.0" rx="1.6" ry="1.0" fill="#fff" opacity="0.5"/>
<rect x="412.6" y="355.0" width="2.8" height="12.0" fill="#1020f0"/>
<rect x="413.0" y="355.0" width="1.0" height="12.0" fill="#fff" opacity="0.4"/>
<rect x="424.7" y="355.0" width="2.6" height="12.0" fill="#a8b0f0"/>
<rect x="425.1" y="355.0" width="0.9" height="12.0" fill="#fff" opacity="0.4"/>
<defs><linearGradient id="pg38" gradientUnits="userSpaceOnUse" x1="401.5" y1="344.4" x2="429.8" y2="361.9"><stop offset="0.00" stop-color="#3848d0"/><stop offset="0.14" stop-color="#c83434"/><stop offset="0.30" stop-color="#d45c5c"/><stop offset="0.47" stop-color="#f2f2f8"/><stop offset="0.63" stop-color="#d45c5c"/><stop offset="0.80" stop-color="#c83c3c"/><stop offset="1.00" stop-color="#c8c8e8"/></linearGradient></defs>
<path d="M408.4 333.2L446.0 333.2L435.4 355.5L394.6 355.5Z" fill="url(#pg38)"/>
<defs><clipPath id="cp13"><path d="M408.4 333.2L446.0 333.2L435.4 355.5L394.6 355.5Z"/></clipPath></defs>
<defs><radialGradient id="rb39"><stop offset="0" stop-color="#2030d0" stop-opacity="0.95"/><stop offset="0.55" stop-color="#2030d0" stop-opacity="0.66"/><stop offset="1" stop-color="#2030d0" stop-opacity="0"/></radialGradient></defs>
<ellipse clip-path="url(#cp13)" cx="424.0" cy="334.0" rx="13.0" ry="4.5" fill="url(#rb39)"/>
<defs><radialGradient id="rb40"><stop offset="0" stop-color="#1828d8" stop-opacity="0.95"/><stop offset="0.55" stop-color="#1828d8" stop-opacity="0.66"/><stop offset="1" stop-color="#1828d8" stop-opacity="0"/></radialGradient></defs>
<ellipse clip-path="url(#cp13)" cx="416.0" cy="353.0" rx="22.0" ry="6.5" fill="url(#rb40)"/>
<rect x="411.4" y="329.0" width="3.2" height="8.0" fill="#a8b0f0"/>
<rect x="411.9" y="329.0" width="0.9" height="8.0" fill="#fff" opacity="0.35"/>
<ellipse cx="413.0" cy="329.0" rx="3.0" ry="2.5" fill="#a8b0f0"/>
<ellipse cx="412.3" cy="328.0" rx="1.6" ry="1.0" fill="#fff" opacity="0.5"/>
<rect x="424.4" y="329.0" width="3.2" height="8.0" fill="#2233d8"/>
<rect x="424.9" y="329.0" width="0.9" height="8.0" fill="#fff" opacity="0.35"/>
<ellipse cx="426.0" cy="329.0" rx="3.0" ry="2.5" fill="#1020f0"/>
<ellipse cx="425.3" cy="328.0" rx="1.6" ry="1.0" fill="#fff" opacity="0.5"/>
<rect x="405.4" y="335.0" width="3.2" height="8.0" fill="#d42626"/>
<rect x="405.9" y="335.0" width="0.9" height="8.0" fill="#fff" opacity="0.35"/>
<ellipse cx="407.0" cy="335.0" rx="3.0" ry="2.5" fill="#e01818"/>
<ellipse cx="406.3" cy="334.0" rx="1.6" ry="1.0" fill="#fff" opacity="0.5"/>
<rect x="432.4" y="335.0" width="3.2" height="8.0" fill="#d42626"/>
<rect x="432.9" y="335.0" width="0.9" height="8.0" fill="#fff" opacity="0.35"/>
<ellipse cx="434.0" cy="335.0" rx="3.0" ry="2.5" fill="#e01818"/>
<ellipse cx="433.3" cy="334.0" rx="1.6" ry="1.0" fill="#fff" opacity="0.5"/>
<rect x="413.4" y="345.0" width="3.2" height="7.0" fill="#2233d8"/>
<rect x="413.9" y="345.0" width="0.9" height="7.0" fill="#fff" opacity="0.35"/>
<ellipse cx="415.0" cy="345.0" rx="3.0" ry="2.5" fill="#1020f0"/>
<ellipse cx="414.3" cy="344.0" rx="1.6" ry="1.0" fill="#fff" opacity="0.5"/>
<rect x="425.5" y="345.0" width="3.1" height="7.0" fill="#a8b0f0"/>
<rect x="426.0" y="345.0" width="0.9" height="7.0" fill="#fff" opacity="0.35"/>
<ellipse cx="427.0" cy="345.0" rx="2.9" ry="2.5" fill="#a8b0f0"/>
<ellipse cx="426.3" cy="344.0" rx="1.5" ry="1.0" fill="#fff" opacity="0.5"/>
<rect x="457.7" y="354.0" width="2.6" height="8.0" fill="#d42626"/>
<rect x="458.1" y="354.0" width="0.9" height="8.0" fill="#fff" opacity="0.4"/>
<rect x="470.6" y="354.0" width="2.8" height="13.0" fill="#1020f0"/>
<rect x="471.0" y="354.0" width="1.0" height="13.0" fill="#fff" opacity="0.4"/>
<defs><linearGradient id="pg41" gradientUnits="userSpaceOnUse" x1="446.2" y1="344.4" x2="471.3" y2="362.4"><stop offset="0.00" stop-color="#2838d0"/><stop offset="0.12" stop-color="#9098d0"/><stop offset="0.25" stop-color="#d8a0a4"/><stop offset="0.45" stop-color="#c84848"/><stop offset="0.62" stop-color="#d06060"/><stop offset="0.78" stop-color="#e8e0e4"/><stop offset="0.90" stop-color="#5060d0"/><stop offset="1.00" stop-color="#3040d0"/></linearGradient></defs>
<path d="M453.8 333.8L490.6 333.8L478.1 354.9L438.6 354.9Z" fill="url(#pg41)"/>
<defs><clipPath id="cp14"><path d="M453.8 333.8L490.6 333.8L478.1 354.9L438.6 354.9Z"/></clipPath></defs>
<defs><radialGradient id="rb42"><stop offset="0" stop-color="#c03030" stop-opacity="0.60"/><stop offset="0.55" stop-color="#c03030" stop-opacity="0.42"/><stop offset="1" stop-color="#c03030" stop-opacity="0"/></radialGradient></defs>
<ellipse clip-path="url(#cp14)" cx="462.0" cy="350.0" rx="10.0" ry="5.0" fill="url(#rb42)"/>
<defs><radialGradient id="rb43"><stop offset="0" stop-color="#3040d0" stop-opacity="0.60"/><stop offset="0.55" stop-color="#3040d0" stop-opacity="0.42"/><stop offset="1" stop-color="#3040d0" stop-opacity="0"/></radialGradient></defs>
<ellipse clip-path="url(#cp14)" cx="488.0" cy="335.0" rx="6.0" ry="3.0" fill="url(#rb43)"/>
<rect x="456.4" y="329.0" width="3.2" height="8.0" fill="#1020f0"/>
<rect x="456.9" y="329.0" width="0.9" height="8.0" fill="#fff" opacity="0.35"/>
<ellipse cx="458.0" cy="329.0" rx="3.0" ry="2.5" fill="#1020f0"/>
<ellipse cx="457.3" cy="328.0" rx="1.6" ry="1.0" fill="#fff" opacity="0.5"/>
<rect x="469.4" y="326.0" width="3.2" height="8.0" fill="#d42626"/>
<rect x="469.9" y="326.0" width="0.9" height="8.0" fill="#fff" opacity="0.35"/>
<ellipse cx="471.0" cy="326.0" rx="3.0" ry="2.5" fill="#e01818"/>
<ellipse cx="470.3" cy="325.0" rx="1.6" ry="1.0" fill="#fff" opacity="0.5"/>
<rect x="449.5" y="337.0" width="3.1" height="7.0" fill="#eaa4a8"/>
<rect x="450.0" y="337.0" width="0.9" height="7.0" fill="#fff" opacity="0.35"/>
<ellipse cx="451.0" cy="337.0" rx="2.9" ry="2.5" fill="#eaa4a8"/>
<ellipse cx="450.3" cy="336.0" rx="1.5" ry="1.0" fill="#fff" opacity="0.5"/>
<rect x="476.5" y="337.0" width="3.1" height="7.0" fill="#eaa4a8"/>
<rect x="477.0" y="337.0" width="0.9" height="7.0" fill="#fff" opacity="0.35"/>
<ellipse cx="478.0" cy="337.0" rx="2.9" ry="2.5" fill="#eaa4a8"/>
<ellipse cx="477.3" cy="336.0" rx="1.5" ry="1.0" fill="#fff" opacity="0.5"/>
<rect x="457.4" y="344.0" width="3.2" height="8.0" fill="#d42626"/>
<rect x="457.9" y="344.0" width="0.9" height="8.0" fill="#fff" opacity="0.35"/>
<ellipse cx="459.0" cy="344.0" rx="3.0" ry="2.5" fill="#e01818"/>
<ellipse cx="458.3" cy="343.0" rx="1.6" ry="1.0" fill="#fff" opacity="0.5"/>
<rect x="470.4" y="347.0" width="3.2" height="8.0" fill="#1020f0"/>
<rect x="470.9" y="347.0" width="0.9" height="8.0" fill="#fff" opacity="0.35"/>
<ellipse cx="472.0" cy="347.0" rx="3.0" ry="2.5" fill="#1020f0"/>
<ellipse cx="471.3" cy="346.0" rx="1.6" ry="1.0" fill="#fff" opacity="0.5"/>
<rect x="511.1" y="355.0" width="1.8" height="3.0" fill="#d42626"/>
<rect x="511.5" y="355.0" width="0.6" height="3.0" fill="#fff" opacity="0.4"/>
<rect x="519.8" y="355.0" width="2.4" height="11.0" fill="#eaa4a8"/>
<rect x="520.2" y="355.0" width="0.8" height="11.0" fill="#fff" opacity="0.4"/>
<rect x="533.7" y="355.0" width="2.6" height="11.0" fill="#2233d8"/>
<rect x="534.1" y="355.0" width="0.9" height="11.0" fill="#fff" opacity="0.4"/>
<defs><linearGradient id="pg44" gradientUnits="userSpaceOnUse" x1="509.9" y1="344.2" x2="537.2" y2="362.2"><stop offset="0.00" stop-color="#9098c8"/><stop offset="0.25" stop-color="#b89ca4"/><stop offset="0.50" stop-color="#b4a8b4"/><stop offset="0.70" stop-color="#a8a8c0"/><stop offset="1.00" stop-color="#b8a0a8"/></linearGradient></defs>
<path d="M517.1 333.2L554.6 333.2L543.4 355.3L502.6 355.3Z" fill="url(#pg44)"/>
<defs><clipPath id="cp15"><path d="M517.1 333.2L554.6 333.2L543.4 355.3L502.6 355.3Z"/></clipPath></defs>
<defs><radialGradient id="rb45"><stop offset="0" stop-color="#5060c8" stop-opacity="0.35"/><stop offset="0.55" stop-color="#5060c8" stop-opacity="0.24"/><stop offset="1" stop-color="#5060c8" stop-opacity="0"/></radialGradient></defs>
<ellipse clip-path="url(#cp15)" cx="530.0" cy="348.0" rx="10.0" ry="6.0" fill="url(#rb45)"/>
<path d="M502.6 355.0L543.4 355.0" stroke="#c07080" stroke-width="0.8" opacity="0.7"/>
<rect x="520.1" y="328.0" width="1.9" height="9.0" fill="#f4f0f0"/>
<rect x="522.0" y="328.0" width="1.9" height="9.0" fill="#2233d8"/>
<rect x="520.6" y="328.0" width="0.8" height="9.0" fill="#fff" opacity="0.3"/>
<ellipse cx="522.0" cy="328.2" rx="2.9" ry="2.6" fill="#1020f0"/>
<ellipse cx="521.4" cy="327.1" rx="1.5" ry="1.1" fill="#fff" opacity="0.6"/>
<rect x="534.1" y="328.0" width="1.9" height="8.0" fill="#d42626"/>
<rect x="536.0" y="328.0" width="1.9" height="8.0" fill="#f4f0f0"/>
<rect x="534.6" y="328.0" width="0.8" height="8.0" fill="#fff" opacity="0.3"/>
<ellipse cx="536.0" cy="328.2" rx="2.9" ry="2.6" fill="#d42626"/>
<ellipse cx="535.4" cy="327.1" rx="1.5" ry="1.1" fill="#fff" opacity="0.6"/>
<rect x="512.1" y="336.0" width="1.9" height="8.0" fill="#d42626"/>
<rect x="514.0" y="336.0" width="1.9" height="8.0" fill="#f4f0f0"/>
<rect x="512.6" y="336.0" width="0.8" height="8.0" fill="#fff" opacity="0.3"/>
<ellipse cx="514.0" cy="336.2" rx="2.9" ry="2.6" fill="#2233d8"/>
<ellipse cx="513.4" cy="335.1" rx="1.5" ry="1.1" fill="#fff" opacity="0.6"/>
<rect x="540.1" y="336.0" width="1.9" height="8.0" fill="#d42626"/>
<rect x="542.0" y="336.0" width="1.9" height="8.0" fill="#f4f0f0"/>
<rect x="540.6" y="336.0" width="0.8" height="8.0" fill="#fff" opacity="0.3"/>
<ellipse cx="542.0" cy="336.2" rx="2.9" ry="2.6" fill="#e01818"/>
<ellipse cx="541.4" cy="335.1" rx="1.5" ry="1.1" fill="#fff" opacity="0.6"/>
<rect x="519.2" y="344.0" width="1.8" height="8.0" fill="#eaa4a8"/>
<rect x="521.0" y="344.0" width="1.8" height="8.0" fill="#f4f0f0"/>
<rect x="519.7" y="344.0" width="0.7" height="8.0" fill="#fff" opacity="0.3"/>
<ellipse cx="521.0" cy="344.2" rx="2.8" ry="2.6" fill="#f4f0f0"/>
<ellipse cx="520.4" cy="343.1" rx="1.4" ry="1.1" fill="#fff" opacity="0.6"/>
<rect x="533.2" y="344.0" width="1.8" height="8.0" fill="#f4f0f0"/>
<rect x="535.0" y="344.0" width="1.8" height="8.0" fill="#a8b0f0"/>
<rect x="533.7" y="344.0" width="0.7" height="8.0" fill="#fff" opacity="0.3"/>
<ellipse cx="535.0" cy="344.2" rx="2.8" ry="2.6" fill="#2233d8"/>
<ellipse cx="534.4" cy="343.1" rx="1.4" ry="1.1" fill="#fff" opacity="0.6"/>
<rect x="566.7" y="355.0" width="2.6" height="10.0" fill="#1020f0"/>
<rect x="567.1" y="355.0" width="0.9" height="10.0" fill="#fff" opacity="0.4"/>
<rect x="581.8" y="355.0" width="2.4" height="11.0" fill="#eaa4a8"/>
<rect x="582.2" y="355.0" width="0.8" height="11.0" fill="#fff" opacity="0.4"/>
<rect x="587.9" y="350.0" width="2.2" height="8.0" fill="#d42626"/>
<rect x="588.3" y="350.0" width="0.8" height="8.0" fill="#fff" opacity="0.4"/>
<defs><linearGradient id="pg46" gradientUnits="userSpaceOnUse" x1="552.8" y1="344.2" x2="587.1" y2="359.6"><stop offset="0.00" stop-color="#b89098"/><stop offset="0.30" stop-color="#c0a0a4"/><stop offset="0.50" stop-color="#b0a8b8"/><stop offset="0.75" stop-color="#c09ca0"/><stop offset="1.00" stop-color="#b88c94"/></linearGradient></defs>
<path d="M557.8 333.2L599.9 333.2L588.1 355.3L547.9 355.3Z" fill="url(#pg46)"/>
<defs><clipPath id="cp16"><path d="M557.8 333.2L599.9 333.2L588.1 355.3L547.9 355.3Z"/></clipPath></defs>
<defs><radialGradient id="rb47"><stop offset="0" stop-color="#5060c8" stop-opacity="0.35"/><stop offset="0.55" stop-color="#5060c8" stop-opacity="0.24"/><stop offset="1" stop-color="#5060c8" stop-opacity="0"/></radialGradient></defs>
<ellipse clip-path="url(#cp16)" cx="570.0" cy="350.0" rx="12.0" ry="6.0" fill="url(#rb47)"/>
<rect x="563.1" y="329.0" width="1.9" height="8.0" fill="#d42626"/>
<rect x="565.0" y="329.0" width="1.9" height="8.0" fill="#f4f0f0"/>
<rect x="563.6" y="329.0" width="0.8" height="8.0" fill="#fff" opacity="0.3"/>
<ellipse cx="565.0" cy="329.2" rx="2.9" ry="2.6" fill="#d42626"/>
<ellipse cx="564.4" cy="328.1" rx="1.5" ry="1.1" fill="#fff" opacity="0.6"/>
<rect x="577.1" y="328.0" width="1.9" height="8.0" fill="#1020f0"/>
<rect x="579.0" y="328.0" width="1.9" height="8.0" fill="#f4f0f0"/>
<rect x="577.6" y="328.0" width="0.8" height="8.0" fill="#fff" opacity="0.3"/>
<ellipse cx="579.0" cy="328.2" rx="2.9" ry="2.6" fill="#1020f0"/>
<ellipse cx="578.4" cy="327.1" rx="1.5" ry="1.1" fill="#fff" opacity="0.6"/>
<rect x="556.1" y="338.0" width="1.9" height="7.0" fill="#d42626"/>
<rect x="558.0" y="338.0" width="1.9" height="7.0" fill="#f4f0f0"/>
<rect x="556.6" y="338.0" width="0.8" height="7.0" fill="#fff" opacity="0.3"/>
<ellipse cx="558.0" cy="338.2" rx="2.9" ry="2.6" fill="#e01818"/>
<ellipse cx="557.4" cy="337.1" rx="1.5" ry="1.1" fill="#fff" opacity="0.6"/>
<rect x="586.1" y="337.0" width="1.9" height="7.0" fill="#f4f0f0"/>
<rect x="588.0" y="337.0" width="1.9" height="7.0" fill="#d42626"/>
<rect x="586.6" y="337.0" width="0.8" height="7.0" fill="#fff" opacity="0.3"/>
<ellipse cx="588.0" cy="337.2" rx="2.9" ry="2.6" fill="#d42626"/>
<ellipse cx="587.4" cy="336.1" rx="1.5" ry="1.1" fill="#fff" opacity="0.6"/>
<rect x="566.2" y="346.0" width="1.8" height="6.0" fill="#f4f0f0"/>
<rect x="568.0" y="346.0" width="1.8" height="6.0" fill="#a8b0f0"/>
<rect x="566.7" y="346.0" width="0.7" height="6.0" fill="#fff" opacity="0.3"/>
<ellipse cx="568.0" cy="346.2" rx="2.8" ry="2.6" fill="#2233d8"/>
<ellipse cx="567.4" cy="345.1" rx="1.4" ry="1.1" fill="#fff" opacity="0.6"/>
<rect x="581.1" y="346.0" width="1.9" height="7.0" fill="#d42626"/>
<rect x="583.0" y="346.0" width="1.9" height="7.0" fill="#f4f0f0"/>
<rect x="581.6" y="346.0" width="0.8" height="7.0" fill="#fff" opacity="0.3"/>
<ellipse cx="583.0" cy="346.2" rx="2.9" ry="2.6" fill="#e01818"/>
<ellipse cx="582.4" cy="345.1" rx="1.5" ry="1.1" fill="#fff" opacity="0.6"/>
<text x="53.8" y="273.4" font-family='"Liberation Sans", sans-serif' font-size="9.40" font-weight="bold" font-style="normal" fill="#1f7d42" text-anchor="middle" >PBG</text>
<text x="161.5" y="273.0" font-family='"Liberation Sans", sans-serif' font-size="9.40" font-weight="bold" font-style="normal" fill="#b0198e" text-anchor="middle" >CBG</text>
<text x="447.2" y="274.0" font-family='"Liberation Sans", sans-serif' font-size="9.40" font-weight="bold" font-style="normal" fill="#1f7d42" text-anchor="middle" >PBG</text>
<text x="556.3" y="275.1" font-family='"Liberation Sans", sans-serif' font-size="9.40" font-weight="bold" font-style="normal" fill="#b0198e" text-anchor="middle" >CBG</text>
<text x="100.6" y="285.6" font-size="7.4" fill="#222" textLength="17.4" lengthAdjust="spacingAndGlyphs"><tspan font-family='"Liberation Serif", serif'>Γ</tspan><tspan font-family='"Liberation Sans", sans-serif'>(UP)</tspan></text>
<text x="96.0" y="330.0" font-size="7.4" fill="#222" textLength="28.8" lengthAdjust="spacingAndGlyphs"><tspan font-family='"Liberation Serif", serif'>Γ</tspan><tspan font-family='"Liberation Sans", sans-serif'>(DOWN)</tspan></text>
<text x="491.0" y="284.0" font-size="7.4" fill="#222" textLength="17.4" lengthAdjust="spacingAndGlyphs"><tspan font-family='"Liberation Serif", serif'>Γ</tspan><tspan font-family='"Liberation Sans", sans-serif'>(UP)</tspan></text>
<text x="485.3" y="330.4" font-size="7.4" fill="#222" textLength="28.8" lengthAdjust="spacingAndGlyphs"><tspan font-family='"Liberation Serif", serif'>Γ</tspan><tspan font-family='"Liberation Sans", sans-serif'>(DOWN)</tspan></text>
<text x="39.0" y="316.0" font-family='"Liberation Serif", serif' font-size="7.40" font-weight="normal" font-style="italic" fill="#333" text-anchor="start" textLength="16.2" lengthAdjust="spacingAndGlyphs">d-type</text>
<text x="150.7" y="313.8" font-family='"Liberation Serif", serif' font-size="7.40" font-weight="normal" font-style="italic" fill="#333" text-anchor="start" textLength="16.2" lengthAdjust="spacingAndGlyphs">d-type</text>
<text x="38.7" y="363.3" font-family='"Liberation Serif", serif' font-size="7.40" font-weight="normal" font-style="italic" fill="#333" text-anchor="start" textLength="16.2" lengthAdjust="spacingAndGlyphs">p-type</text>
<text x="150.8" y="363.2" font-family='"Liberation Serif", serif' font-size="7.40" font-weight="normal" font-style="italic" fill="#333" text-anchor="start" textLength="16.2" lengthAdjust="spacingAndGlyphs">p-type</text>
<text x="434.6" y="317.2" font-family='"Liberation Serif", serif' font-size="7.40" font-weight="normal" font-style="italic" fill="#333" text-anchor="start" textLength="16.2" lengthAdjust="spacingAndGlyphs">p-type</text>
<text x="544.0" y="316.9" font-family='"Liberation Serif", serif' font-size="7.40" font-weight="normal" font-style="italic" fill="#333" text-anchor="start" textLength="16.2" lengthAdjust="spacingAndGlyphs">p-type</text>
<text x="434.0" y="365.2" font-family='"Liberation Serif", serif' font-size="7.40" font-weight="normal" font-style="italic" fill="#333" text-anchor="start" textLength="16.2" lengthAdjust="spacingAndGlyphs">d-type</text>
<text x="543.0" y="365.2" font-family='"Liberation Serif", serif' font-size="7.40" font-weight="normal" font-style="italic" fill="#333" text-anchor="start" textLength="16.2" lengthAdjust="spacingAndGlyphs">d-type</text>
<rect x="93.0" y="369.6" width="22" height="1.8" fill="url(#mm)"/>
<rect x="481.5" y="370.8" width="22" height="1.8" fill="url(#mm)"/>
<text x="89.2" y="377.4" font-family='"Liberation Sans", sans-serif' font-size="6.20" font-weight="normal" font-style="normal" fill="#222" text-anchor="start" >Min</text>
<text x="110.0" y="377.4" font-family='"Liberation Sans", sans-serif' font-size="6.20" font-weight="normal" font-style="normal" fill="#222" text-anchor="start" >Max</text>
<text x="480.6" y="378.2" font-family='"Liberation Sans", sans-serif' font-size="6.20" font-weight="normal" font-style="normal" fill="#222" text-anchor="start" >Min</text>
<text x="501.2" y="377.9" font-family='"Liberation Sans", sans-serif' font-size="6.20" font-weight="normal" font-style="normal" fill="#222" text-anchor="start" >Max</text>
<rect x="232.5" y="291.5" width="147.0" height="77.0" fill="#fff" stroke="#8c8c8c" stroke-width="1"/>
<path d="M232.4 317.5h0M234.9 317.5h0M237.4 317.5h0M239.9 317.5h0M242.3 317.5h0M244.8 317.5h0M247.3 317.5h0M249.8 317.5h0M252.3 317.5h0M254.8 317.5h0M257.3 317.5h0M259.8 317.5h0M262.2 317.5h0M264.7 317.5h0M267.2 317.5h0M269.7 317.5h0M272.2 317.5h0M274.7 317.5h0M277.2 317.5h0M279.6 317.5h0M282.1 317.5h0M284.6 317.5h0M287.1 317.5h0M289.6 317.5h0M292.0 317.5h0M294.5 317.5h0M297.0 317.5h0M299.5 317.5h0M301.9 317.5h0M304.4 317.5h0M306.9 317.5h0M309.4 317.5h0M311.8 317.5h0M314.3 317.5h0M316.8 317.5h0M319.3 317.5h0M321.7 317.5h0M324.2 317.5h0M326.7 317.5h0M329.2 317.5h0M331.7 317.5h0M334.2 317.5h0M336.8 317.5h0M339.3 317.5h0M341.8 317.5h0M344.3 317.5h0M346.9 317.5h0M349.4 317.5h0M351.9 317.5h0M354.5 317.5h0M357.0 317.5h0M359.5 317.5h0M362.1 317.5h0M364.6 317.5h0M367.1 317.5h0M369.7 317.5h0M372.2 317.5h0M374.7 317.5h0M377.3 317.5h0M379.8 317.5h0M232.4 319.3h0M234.9 319.3h0M237.4 319.3h0M239.9 319.3h0M242.3 319.3h0M244.8 319.3h0M247.3 319.3h0M249.8 319.3h0M252.3 319.3h0M254.8 319.3h0M257.3 319.3h0M259.8 319.3h0M262.2 319.3h0M264.7 319.3h0M267.2 319.3h0M269.7 319.3h0M272.2 319.3h0M274.7 319.3h0M277.2 319.3h0M279.6 319.3h0M282.1 319.3h0M284.6 319.3h0M287.1 319.3h0M289.6 319.3h0M292.0 319.3h0M294.5 319.3h0M297.0 319.3h0M299.5 319.3h0M301.9 319.3h0M304.4 319.3h0M306.9 319.3h0M309.4 319.3h0M311.8 319.3h0M314.3 319.3h0M316.8 319.3h0M319.3 319.3h0M321.7 319.3h0M324.2 319.3h0M326.7 319.3h0M329.2 319.3h0M331.7 319.3h0M334.2 319.3h0M336.8 319.3h0M339.3 319.3h0M341.8 319.3h0M344.3 319.3h0M346.9 319.3h0M349.4 319.3h0M351.9 319.3h0M354.5 319.3h0M357.0 319.3h0M359.5 319.3h0M362.1 319.3h0M364.6 319.3h0M367.1 319.3h0M369.7 319.3h0M372.2 319.3h0M374.7 319.3h0M377.3 319.3h0M379.8 319.3h0M232.4 321.1h0M234.9 321.1h0M237.4 321.1h0M239.9 321.1h0M242.3 321.1h0M244.8 321.1h0M247.3 321.1h0M249.8 321.1h0M252.3 321.1h0M254.8 321.1h0M257.3 321.1h0M259.8 321.1h0M262.2 321.1h0M264.7 321.1h0M267.2 321.1h0M269.7 321.1h0M272.2 321.1h0M274.7 321.1h0M277.2 321.1h0M279.6 321.1h0M282.1 321.1h0M284.6 321.1h0M287.1 321.1h0M289.6 321.1h0M292.0 321.1h0M294.5 321.1h0M297.0 321.1h0M299.5 321.1h0M301.9 321.1h0M304.4 321.1h0M306.9 321.1h0M309.4 321.1h0M311.8 321.1h0M314.3 321.1h0M316.8 321.1h0M319.3 321.1h0M321.7 321.1h0M324.2 321.1h0M326.7 321.1h0M329.2 321.1h0M331.7 321.1h0M334.2 321.1h0M336.8 321.1h0M339.3 321.1h0M341.8 321.1h0M344.3 321.1h0M346.9 321.1h0M349.4 321.1h0M351.9 321.1h0M354.5 321.1h0M357.0 321.1h0M359.5 321.1h0M362.1 321.1h0M364.6 321.1h0M367.1 321.1h0M369.7 321.1h0M372.2 321.1h0M374.7 321.1h0M377.3 321.1h0M379.8 321.1h0" stroke="#4a70c4" stroke-width="1.70" stroke-linecap="round" fill="none" opacity="1"/>
<path d="M274.7 296.0h0M277.2 302.2h0M279.8 307.8h0M282.3 310.7h0M284.8 312.5h0M287.4 313.9h0M289.9 314.7h0M292.4 315.1h0M295.0 315.4h0M297.5 315.6h0M300.1 315.8h0M302.6 315.9h0M305.1 316.0h0M307.7 316.0h0M310.2 316.0h0M312.7 316.0h0M315.3 316.0h0M317.8 316.0h0M271.5 294.6h0M274.0 298.6h0M276.4 302.5h0M278.9 306.3h0M281.3 309.8h0M247.1 316.0h0M249.6 316.0h0M252.1 316.0h0M254.6 316.0h0M257.1 316.0h0M259.6 316.0h0M262.1 316.0h0M264.6 315.8h0M267.1 315.5h0M269.6 315.1h0M272.1 314.5h0M274.6 313.9h0M277.1 312.8h0M279.6 311.2h0M282.1 308.9h0M284.5 303.7h0M287.0 297.3h0M289.5 291.7h0M232.4 324.6h0M234.9 324.6h0M237.5 324.6h0M240.0 324.6h0M242.5 324.6h0M245.0 324.6h0M247.6 324.6h0M250.1 324.6h0M252.6 324.6h0M255.1 324.6h0M257.7 324.6h0M260.2 324.6h0M262.7 324.7h0M265.2 325.1h0M267.8 325.9h0M270.3 326.9h0M272.8 328.1h0M275.4 329.6h0M277.9 331.7h0M280.4 334.7h0M282.9 338.5h0M285.4 344.0h0M288.0 350.9h0M290.5 359.1h0M293.0 368.5h0M266.6 368.5h0M269.1 361.2h0M271.6 354.5h0M274.1 348.6h0M276.6 343.4h0M279.1 339.0h0M281.6 335.4h0M284.1 332.5h0M286.6 330.1h0M289.1 328.5h0M291.6 327.2h0M294.1 326.1h0M296.6 325.3h0M299.0 324.8h0M301.5 324.6h0M304.0 324.6h0M306.5 324.6h0M309.0 324.6h0M311.5 324.6h0M314.0 324.6h0M316.5 324.6h0M319.0 324.6h0M321.5 324.6h0M323.9 324.6h0M326.4 324.6h0M328.9 324.6h0M331.4 324.6h0M334.0 324.6h0M336.5 324.6h0M339.1 324.6h0M341.6 324.6h0M344.2 324.6h0M346.7 324.6h0M349.3 324.6h0M351.8 324.6h0M354.3 324.6h0M356.9 324.6h0M359.4 324.6h0M362.0 324.6h0M364.5 324.6h0M367.1 324.6h0M369.6 324.6h0M372.2 324.6h0M374.7 324.6h0M377.3 324.6h0M379.8 324.6h0M261.7 368.5h0M264.2 364.2h0M266.6 360.1h0M269.1 356.1h0M271.5 352.2h0M274.0 348.4h0M276.4 344.8h0M278.9 341.3h0M281.3 337.9h0M281.3 337.9h0M283.8 341.5h0M286.3 345.4h0M288.8 349.5h0M291.3 353.8h0M293.8 358.5h0M296.3 363.4h0M298.8 368.5h0" stroke="#2236a0" stroke-width="1.70" stroke-linecap="round" fill="none" opacity="1"/>
<path d="M232.4 325.2h0M234.7 326.0h0M237.1 327.2h0M239.4 328.7h0M241.7 330.4h0M244.1 332.3h0M246.4 334.3h0M248.7 336.5h0M251.1 339.1h0M253.4 342.1h0M255.7 345.9h0M258.1 350.4h0M260.4 356.9h0M262.7 368.5h0M252.0 325.2h0M253.9 325.9h0M255.8 327.8h0M257.7 330.5h0M259.6 333.8h0M261.5 337.4h0M263.4 341.7h0M265.3 347.8h0M267.2 355.9h0M269.1 368.5h0M293.5 368.5h0M295.4 362.6h0M297.3 356.6h0M299.2 350.6h0M301.1 344.1h0M302.9 338.5h0M304.8 334.3h0M306.7 330.5h0M308.6 327.4h0M310.5 325.2h0M298.3 368.5h0M301.4 361.3h0M304.5 355.1h0M307.6 350.2h0M310.7 346.0h0M313.8 342.2h0M316.9 338.9h0M319.9 335.7h0M323.0 332.6h0M326.1 329.9h0M329.2 328.0h0M332.3 326.9h0M335.5 326.0h0M338.6 325.3h0M341.8 324.8h0M344.9 324.6h0" stroke="#d0262e" stroke-width="1.50" stroke-linecap="round" fill="none" opacity="1"/>
<path d="M303.2 324.1h0M305.7 324.1h0M308.2 324.1h0M310.8 324.1h0M313.3 324.1h0M315.8 324.0h0M318.3 324.0h0M320.8 324.0h0M323.3 324.0h0M325.9 324.0h0M328.4 324.0h0M330.9 323.9h0M333.5 323.9h0M336.1 323.9h0M338.6 323.9h0M341.2 323.9h0M343.8 323.9h0M346.4 323.8h0M348.9 323.8h0M351.5 323.8h0M354.1 323.8h0M356.6 323.8h0M359.2 323.8h0M361.8 323.7h0M364.4 323.7h0M366.9 323.7h0M369.5 323.7h0M372.1 323.7h0M374.7 323.7h0M377.2 323.6h0M379.8 323.6h0" stroke="#f0a050" stroke-width="1.40" stroke-linecap="round" fill="none" opacity="1"/>
<path d="M232.4 368.5h1.5M379.8 368.5h-1.5M232.4 343.0h1.5M379.8 343.0h-1.5M232.4 317.5h1.5M379.8 317.5h-1.5M232.4 292.0h1.5M379.8 292.0h-1.5M281.3 368.5v-1.5M330.0 368.5v-1.5" stroke="#7a7a7a" stroke-width="0.8" fill="none"/>
<text x="228.9" y="294.4" font-family='"Liberation Sans", sans-serif' font-size="9.30" font-weight="normal" font-style="normal" fill="#111" text-anchor="end" >7.5</text>
<text x="228.9" y="319.9" font-family='"Liberation Sans", sans-serif' font-size="9.30" font-weight="normal" font-style="normal" fill="#111" text-anchor="end" >7</text>
<text x="228.9" y="345.4" font-family='"Liberation Sans", sans-serif' font-size="9.30" font-weight="normal" font-style="normal" fill="#111" text-anchor="end" >6.5</text>
<text x="228.9" y="370.9" font-family='"Liberation Sans", sans-serif' font-size="9.30" font-weight="normal" font-style="normal" fill="#111" text-anchor="end" >6</text>
<text x="232.4" y="380.3" font-family='"Liberation Sans", sans-serif' font-size="9.30" font-weight="normal" font-style="normal" fill="#111" text-anchor="middle" >M</text>
<text x="281.3" y="380.3" font-family='"Liberation Serif", serif' font-size="9.30" font-weight="normal" font-style="normal" fill="#111" text-anchor="middle" >Γ</text>
<text x="330.0" y="380.3" font-family='"Liberation Sans", sans-serif' font-size="9.30" font-weight="normal" font-style="normal" fill="#111" text-anchor="middle" >K</text>
<text x="379.8" y="380.3" font-family='"Liberation Sans", sans-serif' font-size="9.30" font-weight="normal" font-style="normal" fill="#111" text-anchor="middle" >M</text>
<rect x="329.8" y="288.0" width="2.4" height="10.0" fill="#d42626"/>
<rect x="330.2" y="288.0" width="0.8" height="10.0" fill="#fff" opacity="0.4"/>
<rect x="339.5" y="288.0" width="3.0" height="14.0" fill="#1020f0"/>
<rect x="339.9" y="288.0" width="1.0" height="14.0" fill="#fff" opacity="0.4"/>
<rect x="353.5" y="288.0" width="3.0" height="14.0" fill="#e01818"/>
<rect x="353.9" y="288.0" width="1.0" height="14.0" fill="#fff" opacity="0.4"/>
<rect x="349.9" y="288.0" width="2.2" height="11.0" fill="#f4f0f0"/>
<rect x="350.3" y="288.0" width="0.8" height="11.0" fill="#fff" opacity="0.4"/>
<defs><linearGradient id="pg48" gradientUnits="userSpaceOnUse" x1="324.2" y1="281.2" x2="363.8" y2="299.1"><stop offset="0.00" stop-color="#a8a8a8"/><stop offset="0.50" stop-color="#c6c6c6"/><stop offset="1.00" stop-color="#b4b4b4"/></linearGradient></defs>
<path d="M328.9 270.8L377.8 270.8L366.0 291.6L319.5 291.6Z" fill="url(#pg48)"/>
<defs><clipPath id="cp17"><path d="M328.9 270.8L377.8 270.8L366.0 291.6L319.5 291.6Z"/></clipPath></defs>
<rect x="330.9" y="269.0" width="2.1" height="16.0" fill="#2233d8"/>
<rect x="333.0" y="269.0" width="2.1" height="16.0" fill="#d42626"/>
<rect x="331.4" y="269.0" width="0.8" height="16.0" fill="#fff" opacity="0.3"/>
<ellipse cx="333.0" cy="269.2" rx="3.1" ry="2.6" fill="#f4f0f0"/>
<ellipse cx="332.4" cy="268.1" rx="1.7" ry="1.1" fill="#fff" opacity="0.6"/>
<rect x="341.4" y="265.0" width="2.1" height="19.0" fill="#d42626"/>
<rect x="343.5" y="265.0" width="2.1" height="19.0" fill="#2233d8"/>
<rect x="341.9" y="265.0" width="0.8" height="19.0" fill="#fff" opacity="0.3"/>
<ellipse cx="343.5" cy="265.2" rx="3.1" ry="2.6" fill="#d42626"/>
<ellipse cx="342.9" cy="264.1" rx="1.7" ry="1.1" fill="#fff" opacity="0.6"/>
<rect x="353.4" y="264.0" width="2.1" height="19.0" fill="#d42626"/>
<rect x="355.5" y="264.0" width="2.1" height="19.0" fill="#f4f0f0"/>
<rect x="353.9" y="264.0" width="0.8" height="19.0" fill="#fff" opacity="0.3"/>
<ellipse cx="355.5" cy="264.2" rx="3.1" ry="2.6" fill="#e01818"/>
<ellipse cx="354.9" cy="263.1" rx="1.7" ry="1.1" fill="#fff" opacity="0.6"/>
<rect x="358.4" y="271.0" width="2.1" height="14.0" fill="#2233d8"/>
<rect x="360.5" y="271.0" width="2.1" height="14.0" fill="#d42626"/>
<rect x="358.9" y="271.0" width="0.8" height="14.0" fill="#fff" opacity="0.3"/>
<ellipse cx="360.5" cy="271.2" rx="3.1" ry="2.6" fill="#d42626"/>
<ellipse cx="359.9" cy="270.1" rx="1.7" ry="1.1" fill="#fff" opacity="0.6"/>
<rect x="339.3" y="278.0" width="2.2" height="13.0" fill="#e01818"/>
<rect x="341.5" y="278.0" width="2.2" height="13.0" fill="#d42626"/>
<rect x="339.8" y="278.0" width="0.9" height="13.0" fill="#fff" opacity="0.3"/>
<ellipse cx="341.5" cy="278.2" rx="3.2" ry="2.6" fill="#e01818"/>
<ellipse cx="340.9" cy="277.1" rx="1.8" ry="1.1" fill="#fff" opacity="0.6"/>
<rect x="353.3" y="279.0" width="2.2" height="12.0" fill="#d42626"/>
<rect x="355.5" y="279.0" width="2.2" height="12.0" fill="#2233d8"/>
<rect x="353.8" y="279.0" width="0.9" height="12.0" fill="#fff" opacity="0.3"/>
<ellipse cx="355.5" cy="279.2" rx="3.2" ry="2.6" fill="#1020f0"/>
<ellipse cx="354.9" cy="278.1" rx="1.8" ry="1.1" fill="#fff" opacity="0.6"/>
<path d="M323.2 296.3L284.5 319.2" stroke="#3aa83a" stroke-width="0.8" fill="none"/>
<path d="M282.1 320.5l3.6 -4.0l1.4 2.6z" fill="#3aa83a"/>
<path d="M318 340.5L283.5 311.5M318 340.5L284.5 335.6" stroke="#333" stroke-width="0.8" fill="none"/>
<path d="M281.2 309.2l4.6 1.5l-1.9 2.3zM282.3 335.3l4.3 -1.7l0.3 3z" fill="#222"/>
<rect x="317" y="303.5" width="60" height="12" fill="#fff" opacity="0.85"/>
<text x="320.0" y="312.7" font-family='"Liberation Sans", sans-serif' font-size="10.00" font-weight="normal" font-style="normal" fill="#111" text-anchor="start" >Bolt bending</text>
<rect x="318" y="337" width="58" height="24" fill="#fff" opacity="0.85"/>
<text x="321.6" y="346.0" font-family='"Liberation Sans", sans-serif' font-size="10.00" font-weight="normal" font-style="normal" fill="#111" text-anchor="start" >Two double</text>
<text x="321.6" y="358.6" font-family='"Liberation Sans", sans-serif' font-size="10.00" font-weight="normal" font-style="normal" fill="#111" text-anchor="start" >Dirac cones</text>
</svg></body></html>
